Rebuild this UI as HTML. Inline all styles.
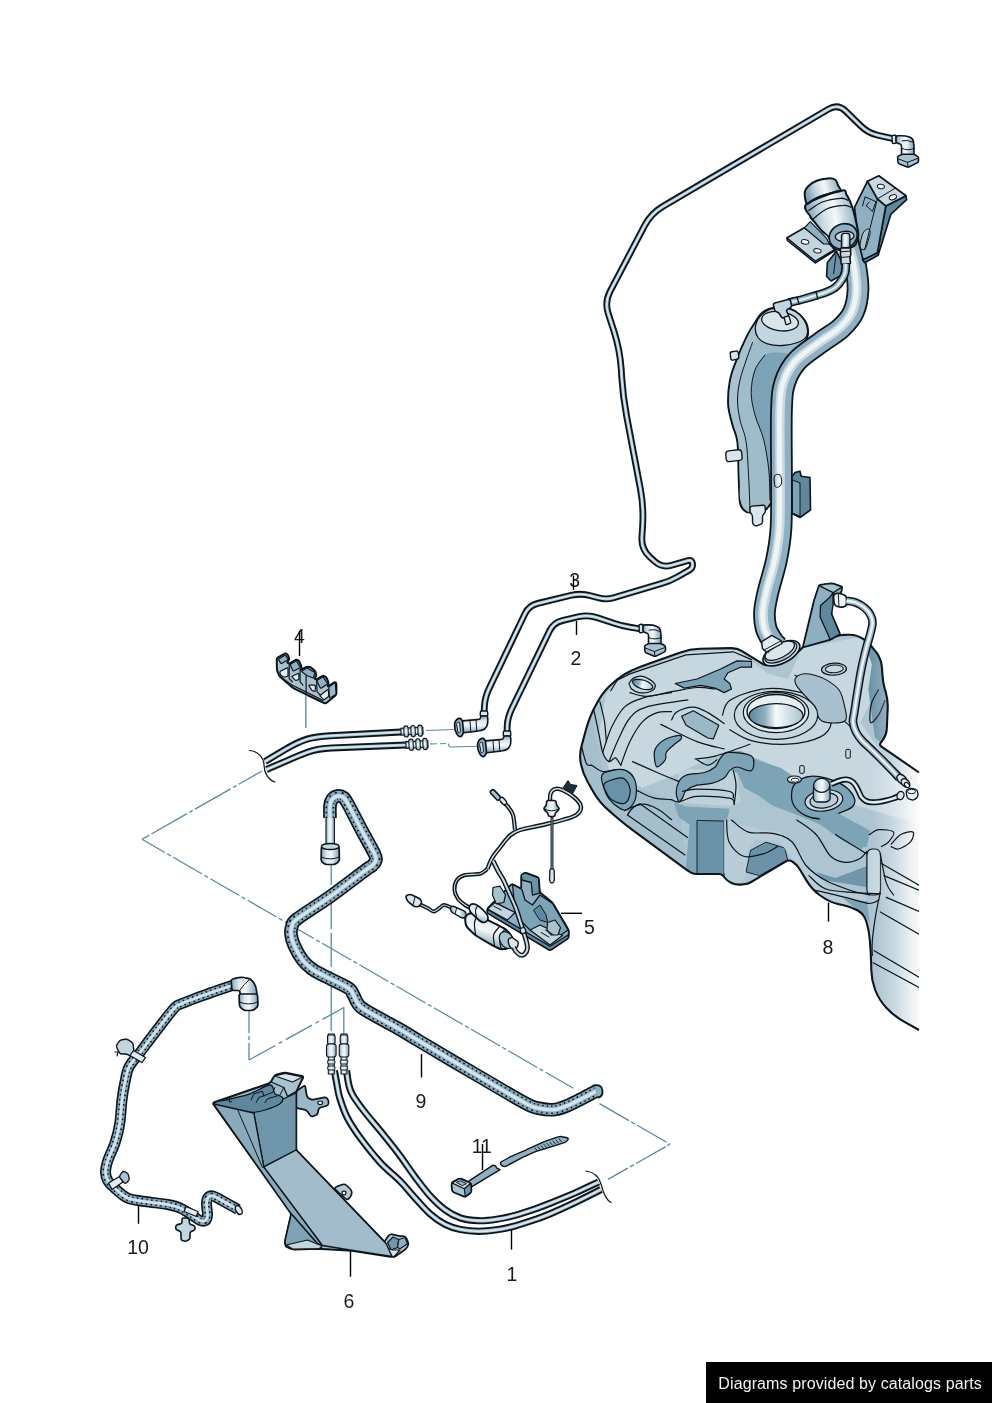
<!DOCTYPE html>
<html lang="en"><head><meta charset="utf-8"><title>Diagram</title>
<style>
html,body{margin:0;padding:0;background:#fff;}
body{width:992px;height:1403px;position:relative;overflow:hidden;font-family:"Liberation Sans",sans-serif;}
svg{position:absolute;left:0;top:0;display:block;will-change:transform;}
.lb{font-family:"Liberation Sans",sans-serif;font-size:19.5px;fill:#1a1a1a;text-anchor:middle;}
.credit{position:absolute;left:706px;top:1362px;width:286px;height:41px;box-sizing:border-box;padding-left:12.3px;overflow:hidden;background:#000;color:#f2f2f2;font-size:16px;line-height:43px;text-align:left;white-space:nowrap;letter-spacing:0.11px;will-change:transform;}
</style></head><body>
<svg width="992" height="1403" viewBox="0 0 992 1403">
<defs>
<linearGradient id="tankfade" gradientUnits="userSpaceOnUse" x1="872" y1="0" x2="919" y2="0">
<stop offset="0" stop-color="#fff" stop-opacity="0"/><stop offset="0.5" stop-color="#fff" stop-opacity="0.4"/><stop offset="0.85" stop-color="#fff" stop-opacity="0.8"/><stop offset="1" stop-color="#fff" stop-opacity="0.92"/>
</linearGradient>
<linearGradient id="cyl" x1="0" y1="0" x2="1" y2="0">
<stop offset="0" stop-color="#7fa2b5"/><stop offset="0.3" stop-color="#dfe9ee"/><stop offset="0.55" stop-color="#f4f8fa"/><stop offset="1" stop-color="#7fa2b5"/>
</linearGradient>
<linearGradient id="hole" x1="0" y1="0" x2="1" y2="0">
<stop offset="0" stop-color="#5d8499"/><stop offset="0.3" stop-color="#8fb0c2"/><stop offset="0.5" stop-color="#f6fafb"/><stop offset="0.8" stop-color="#c9d9e1"/><stop offset="1" stop-color="#a9c2cf"/>
</linearGradient>
<clipPath id="tankclip"><path d="M742.1 651.2Q737 648 731 648.1L699.8 648.8Q689.8 649 680.4 652.4L649.4 663.6Q640 667 632.2 670.2L632.2 670.2Q624.4 673.4 616.7 679.8L613.8 682.2Q604.5 689.8 598.5 700.2L597 702.9Q590 715 586.3 728.5L581.7 745.4Q579 755 580.9 764L580.9 764Q582.7 773 587.6 781.7L593.1 791.5Q599 802 608.1 809.9L616.8 817.5Q624.4 824 632.4 829.9L683.6 867.6Q686 869.4 688.5 871L690.5 872.4Q693 874 696 874L719 874Q722 874 723.7 876.4L724.5 877.5Q727 881 731.5 883L731.5 883Q736 885 741 884.6L743.8 884.3Q747.8 884 751.2 882L785.6 861.5Q789 859.5 792.4 861.7L792.9 862Q796.8 864.5 799.4 868.8L806.4 880.4Q811.5 889 819.5 895L821 896Q829 902 838.8 904.2L843.7 905.3Q851.5 907 857.8 910.5L857.8 910.5Q864 914 866.4 921.6L866.5 922Q869 930 869.8 940L870.2 945Q871 955 871.2 965L871.3 970Q871.5 980 875 989.4L875.2 990Q879 1000 886.5 1008L886.5 1008Q894 1016 904.5 1021.9L919 1030L919 1030L919 772.5L919 772.5L881.5 746.7Q879 745 880.8 742.6L882.9 739.8Q886.5 735 886.8 729L887.7 708Q888 700 885.8 692.3L884.6 688.3Q883 682.5 882.6 676.5L882 668Q881.5 660 877.1 653.3L876.5 652.5Q871.5 645 864.2 639.8L863.5 639.2Q857 634.5 849 634.7L844 634.9Q840 635 836.2 636.2L805.9 645.4Q804 646 802.6 647.4L800.1 649.9Q798 652 795.3 653.2L768.7 664.8Q766 666 763.5 664.4Z"/></clipPath>
<linearGradient id="cyl2" x1="0" y1="0.2" x2="1" y2="0">
<stop offset="0" stop-color="#7fa2b5"/><stop offset="0.25" stop-color="#c9d9e1"/><stop offset="0.5" stop-color="#f4f8fa"/><stop offset="0.75" stop-color="#b3c9d5"/><stop offset="1" stop-color="#6f96ab"/>
</linearGradient>
<linearGradient id="cylv" x1="0" y1="0" x2="0" y2="1">
<stop offset="0" stop-color="#7fa2b5"/><stop offset="0.3" stop-color="#dfe9ee"/><stop offset="0.55" stop-color="#f4f8fa"/><stop offset="1" stop-color="#7fa2b5"/>
</linearGradient>
<linearGradient id="cylp" x1="0.7" y1="0" x2="0.3" y2="1">
<stop offset="0" stop-color="#8fb0c2"/><stop offset="0.3" stop-color="#e6eef2"/><stop offset="0.5" stop-color="#f4f8fa"/><stop offset="0.75" stop-color="#a9c2cf"/><stop offset="1" stop-color="#5f889e"/>
</linearGradient>

</defs>
<g id="lines">
<line x1="142" y1="839.3" x2="262" y2="771" stroke="#5b88a1" stroke-width="1.3" stroke-dasharray="8.4 2.4 41 2.6 4 2.6 41 2.6 4 2.6 60 3" stroke-dashoffset="0"/>
<line x1="142" y1="839.3" x2="573.4" y2="1088.3" stroke="#5b88a1" stroke-width="1.3" stroke-dasharray="33.4 2.6 4.2 2.8" stroke-dashoffset="7"/>
<line x1="599.5" y1="1103.6" x2="670" y2="1144.2" stroke="#5b88a1" stroke-width="1.3" stroke-dasharray="34 2.5 4.5 2.5 34 2.5 3 0" stroke-dashoffset="0"/>
<line x1="670" y1="1144.2" x2="608" y2="1179.4" stroke="#5b88a1" stroke-width="1.3" stroke-dasharray="3 2 34 2.5 4.5 2.5 30 3" stroke-dashoffset="0"/>
<line x1="331.2" y1="865" x2="331.2" y2="1034" stroke="#5b88a1" stroke-width="1.3" stroke-dasharray="20 4 40 4 34 4 60 4" stroke-dashoffset="0"/>
<line x1="343.8" y1="1007" x2="343.8" y2="1034" stroke="#5b88a1" stroke-width="1.3" />
<line x1="249" y1="1011" x2="249" y2="1060" stroke="#5b88a1" stroke-width="1.3" stroke-dasharray="22 3 4 3" stroke-dashoffset="0"/>
<line x1="249" y1="1060" x2="344" y2="1007.5" stroke="#5b88a1" stroke-width="1.3" stroke-dasharray="30 4 4 4" stroke-dashoffset="0"/>
<line x1="305.8" y1="695" x2="305.8" y2="728" stroke="#5b88a1" stroke-width="1.3" />
<line x1="426" y1="730.5" x2="454" y2="729.5" stroke="#5b88a1" stroke-width="1.1" />
<line x1="430" y1="744" x2="446" y2="743.5" stroke="#5b88a1" stroke-width="1.1" stroke-dasharray="7 3" stroke-dashoffset="0"/>
<line x1="448" y1="743.5" x2="449.5" y2="747" stroke="#5b88a1" stroke-width="1.1" />
<line x1="449.5" y1="747" x2="478" y2="746.3" stroke="#5b88a1" stroke-width="1.1" />
<path d="M249.5 750.5C258 751 264 758 264 765C264 772 268 780 275 782" fill="none" stroke="#0d161d" stroke-width="1.2" stroke-linejoin="round" stroke-linecap="round" />
<path d="M586 1171C594 1172 599 1177 601 1184C603 1192 606 1200 611 1202.5" fill="none" stroke="#0d161d" stroke-width="1.2" stroke-linejoin="round" stroke-linecap="round" />
</g>
<g id="tank">
<path d="M742.1 651.2Q737 648 731 648.1L699.8 648.8Q689.8 649 680.4 652.4L649.4 663.6Q640 667 632.2 670.2L632.2 670.2Q624.4 673.4 616.7 679.8L613.8 682.2Q604.5 689.8 598.5 700.2L597 702.9Q590 715 586.3 728.5L581.7 745.4Q579 755 580.9 764L580.9 764Q582.7 773 587.6 781.7L593.1 791.5Q599 802 608.1 809.9L616.8 817.5Q624.4 824 632.4 829.9L683.6 867.6Q686 869.4 688.5 871L690.5 872.4Q693 874 696 874L719 874Q722 874 723.7 876.4L724.5 877.5Q727 881 731.5 883L731.5 883Q736 885 741 884.6L743.8 884.3Q747.8 884 751.2 882L785.6 861.5Q789 859.5 792.4 861.7L792.9 862Q796.8 864.5 799.4 868.8L806.4 880.4Q811.5 889 819.5 895L821 896Q829 902 838.8 904.2L843.7 905.3Q851.5 907 857.8 910.5L857.8 910.5Q864 914 866.4 921.6L866.5 922Q869 930 869.8 940L870.2 945Q871 955 871.2 965L871.3 970Q871.5 980 875 989.4L875.2 990Q879 1000 886.5 1008L886.5 1008Q894 1016 904.5 1021.9L919 1030L919 1030L919 772.5L919 772.5L881.5 746.7Q879 745 880.8 742.6L882.9 739.8Q886.5 735 886.8 729L887.7 708Q888 700 885.8 692.3L884.6 688.3Q883 682.5 882.6 676.5L882 668Q881.5 660 877.1 653.3L876.5 652.5Q871.5 645 864.2 639.8L863.5 639.2Q857 634.5 849 634.7L844 634.9Q840 635 836.2 636.2L805.9 645.4Q804 646 802.6 647.4L800.1 649.9Q798 652 795.3 653.2L768.7 664.8Q766 666 763.5 664.4Z" fill="#adc4d1" stroke="none"/>
<g clip-path="url(#tankclip)">
<path d="M624.4 675.2L689.8 651.7L736.9 649.8L767.8 673.4L787.7 678.9L802.3 648L860.3 637.1L878.5 653.5L882.1 678.9L860.3 722.4L896.6 773.2L918.4 787.7L918.4 824L845.8 802.3L787.7 773.2L758.7 758.7L726 751.4L707.9 758.7L678.9 773.2L642.6 787.7L609.9 773.2L599 733.3L606.3 693.4Z" fill="#c6d7e0" stroke="none" stroke-width="0.9" stroke-linejoin="round"/>
<path d="M579.1 755.1L591.8 715.2L602.7 773.2L635.3 787.7L678.9 802.3L686.1 871.2L624.4 824L599 802.3L582.7 773.2Z" fill="#a5bfcd" stroke="none" stroke-width="0.9" stroke-linejoin="round"/>
<path d="M675.2 683.5L697 679L720.6 669L736.9 660.9L751.5 661.4L751.5 667.2L740.6 667.2L727.9 672.7L724.2 679L729.7 683.5L731.5 689L724.2 692.6L715.2 688.1L700.6 685.4L684.3 688.1Z" fill="#7da3b7" stroke="#0d161d" stroke-width="1.2" stroke-linejoin="round"/>
<ellipse cx="642.6" cy="684.5" rx="10.5" ry="4.4" fill="url(#hole)" stroke="#0d161d" stroke-width="1.2" transform="rotate(17 642.6 684.5)" />
<path d="M629 683.5C629.7 682.6 631.2 679.3 633.5 678.1C635.8 676.9 639.6 675.8 642.6 676.3C645.6 676.7 649.5 679.2 651.7 680.8C653.8 682.5 655.6 684.5 655.3 686.3C655 688.1 652.6 690.7 649.8 691.7C647.1 692.8 642 693.1 639 692.6C635.9 692.2 633.4 690.5 631.7 689C630 687.5 629.4 684.5 629 683.5" fill="none" stroke="#0d161d" stroke-width="1.2" stroke-linejoin="round" stroke-linecap="round" />
<path d="M681.6 716.2L693.4 710.8L718.8 725.3L713.3 738.9L707.9 738L686.1 725.3Z" fill="#9ab8c8" stroke="#0d161d" stroke-width="1.2" stroke-linejoin="round"/>
<path d="M671.6 719.8C672.5 718.5 673.4 713.8 677.1 711.7C680.7 709.6 688.2 707 693.4 707.1C698.5 707.3 702.8 709.9 707.9 712.6C713 715.3 721.5 721.7 724.2 723.5" fill="none" stroke="#0d161d" stroke-width="1.2" stroke-linejoin="round" stroke-linecap="round" />
<path d="M655.3 748.9C656.9 745.8 660.4 742.1 664.4 739.8C668.3 737.5 676.1 735.4 678.9 735.3C681.7 735.1 682 737.2 681.1 738.9C680.1 740.6 675.9 743 673.4 745.2C670.9 747.5 667.5 750.1 666.2 752.5C664.8 754.9 666.8 757.3 665.3 759.8C663.8 762.2 658.9 767.3 657.1 767C655.3 766.7 654.7 761 654.4 757.9C654.1 754.9 653.6 751.9 655.3 748.9Z" fill="#7da3b7" stroke="#0d161d" stroke-width="1.2" stroke-linejoin="round"/>
<path d="M601.8 775.2C603.3 771.1 611.3 770.5 615.4 769.7C619.4 769 623.2 769.3 626.3 770.6C629.3 772 632.2 774.6 633.9 777.9C635.6 781.2 636.5 786.4 636.4 790.6C636.4 794.8 635.5 800.1 633.5 803.3C631.5 806.5 627.8 810 624.4 810C621.1 810.1 616.6 806.3 613.5 803.7C610.5 801 608.3 799 606.3 794.2C604.3 789.5 600.2 779.3 601.8 775.2Z" fill="#7da3b7" stroke="#0d161d" stroke-width="1.2" stroke-linejoin="round"/>
<path d="M604.5 783.3C606.9 780.9 616.9 777.9 620.8 777.9C624.7 777.9 626.6 780.6 628.1 783.3C629.6 786.1 630.5 790.9 629.9 794.2C629.3 797.6 627.5 802.4 624.4 803.3C621.4 804.2 614.8 801.5 611.7 799.7C608.7 797.9 607.5 795.1 606.3 792.4C605.1 789.7 602.1 785.8 604.5 783.3Z" fill="#6a93a9" stroke="#0d161d" stroke-width="1.2" stroke-linejoin="round"/>
<path d="M715.2 764.2L726 751.4L740.6 750.7L758.7 760.5L780.5 767.8L796.8 778.7L802.3 787.7L809.5 802.3L831.3 820.4L860.3 838.5L865.8 847.6L842.2 840.4L820.4 824.8L795 813.9L773.2 805.9L758.7 795.7L744.2 787.7L737.7 773.2L726.8 768.9L715.9 773.2Z" fill="#7da3b7" stroke="none" stroke-width="0.9" stroke-linejoin="round"/>
<path d="M673.8 802.3L686.1 806.6L729.7 808.8L726.8 821.1L725 882.8L697 875.6L685.4 870.5L689.8 824.8L678.9 817.5Z" fill="#7da3b7" stroke="none" stroke-width="0.9" stroke-linejoin="round"/>
<path d="M697 820.4L724.2 821.1L724.2 882.1L697 874.8Z" fill="#6a93a9" stroke="#0d161d" stroke-width="0.9" stroke-linejoin="round"/>
<path d="M678.9 773.2L689.8 768.9L715.2 770.3L726 767.8L736.9 773.2L740.6 802.3L729.7 805.9L686.1 803L675.2 799.4Z" fill="#bfd2dc" stroke="none" stroke-width="0.9" stroke-linejoin="round"/>
<path d="M678.9 781.5C680.5 778.7 681.9 776.7 686.1 775.2C690.4 773.7 699.4 773.8 704.3 772.5C709.1 771.1 712.4 769.4 715.2 767C717.9 764.6 718.5 760.4 720.6 757.9C722.7 755.5 722.7 752.8 727.9 752.5C733 752.2 747.5 753.1 751.5 756.1C755.4 759.2 753.9 768.8 751.5 770.6C749 772.5 740.6 767 736.9 767C733.3 767 731.8 768.8 729.7 770.6C727.6 772.5 727.3 775.8 724.2 777.9C721.2 780 716.1 782.1 711.5 783.3C707 784.6 701.3 784 697 785.2C692.8 786.4 688.6 788.5 686.1 790.6C683.7 792.7 683.7 796.1 682.5 797.9C681.3 799.7 679.9 802.4 678.9 801.5C677.8 800.6 676.2 795.7 676.2 792.4C676.2 789.1 677.2 784.4 678.9 781.5Z" fill="#7da3b7" stroke="#0d161d" stroke-width="1.2" stroke-linejoin="round"/>
<path d="M671.6 799.7C672.8 800 674.6 802.4 678.9 801.9C683.1 801.3 688.6 797 697 796.4C705.5 795.8 723.5 796.9 729.7 798.2C735.9 799.5 733.5 803.2 734.2 804.2" fill="none" stroke="#0d161d" stroke-width="1.2" stroke-linejoin="round" stroke-linecap="round" />
<path d="M682.5 791.5C684.9 791.1 689.2 789.2 697 789.2C704.9 789.2 723.6 790.1 729.7 791.5C735.7 793 732.7 796.8 733.3 797.9" fill="none" stroke="#0d161d" stroke-width="1.2" stroke-linejoin="round" stroke-linecap="round" />
<path d="M734.2 804.2C734.5 801 736.2 790.8 736 785.2C735.9 779.6 733.8 773.1 733.3 770.6" fill="none" stroke="#0d161d" stroke-width="1.2" stroke-linejoin="round" stroke-linecap="round" />
<path d="M627.5 815L685 855" fill="none" stroke="#0d161d" stroke-width="1.2" stroke-linejoin="round" stroke-linecap="round" />
<path d="M640 803.8L687.5 837.5" fill="none" stroke="#0d161d" stroke-width="1.2" stroke-linejoin="round" stroke-linecap="round" />
<path d="M640 803.8Q632 806 627.5 815" fill="none" stroke="#0d161d" stroke-width="1.2" stroke-linejoin="round" stroke-linecap="round" />
<path d="M746 871.9L750.7 850.2L766 842.2L784.8 848L787.7 860.3L759.4 875.6Z" fill="#6a93a9" stroke="#0d161d" stroke-width="0.9" stroke-linejoin="round"/>
<path d="M864.7 642.6L878.5 652.7L886.4 678.9L888.6 722.4L882.8 744.9L874.8 736.9L871.9 715.2L868.3 689.8L871.9 664.4Z" fill="#6f96ab" stroke="none" stroke-width="0.9" stroke-linejoin="round"/>
<path d="M878.5 689.8C877.3 692.2 872.5 698.8 871.2 704.3C869.9 709.7 869.3 720.6 870.5 722.4C871.7 724.2 876 718.8 878.5 715.2C880.9 711.5 883.9 703.1 885 700.6" fill="none" stroke="#0d161d" stroke-width="1.2" stroke-linejoin="round" stroke-linecap="round" />
<path d="M610.8 690.8L617.2 680.3L629.9 673.9L686.1 654.9L733.3 651.8L751.5 659.6" fill="none" stroke="#0d161d" stroke-width="1.2" stroke-linejoin="round" stroke-linecap="round" />
<path d="M629.9 692.6C632.6 693.2 639.3 696.4 646.2 696.3C653.2 696.1 663.1 693.2 671.6 691.7C680.1 690.3 689.8 688 697 687.5C704.3 687.1 712.1 688.8 715.2 689" fill="none" stroke="#0d161d" stroke-width="1.2" stroke-linejoin="round" stroke-linecap="round" />
<path d="M602.7 752.5C604.2 748.3 608.1 734.7 611.7 727.1C615.4 719.5 619.3 712 624.4 707.1C629.6 702.3 634.7 700.5 642.6 698.1C650.4 695.6 666.8 693.5 671.6 692.6" fill="none" stroke="#0d161d" stroke-width="1.2" stroke-linejoin="round" stroke-linecap="round" />
<path d="M609 761.6C610.7 757.6 615.5 745.2 619 738C622.5 730.7 625.3 723.2 629.9 718C634.4 712.9 636.5 710.2 646.2 707.1C655.9 704.1 681 701.1 687.9 699.9" fill="none" stroke="#0d161d" stroke-width="1.2" stroke-linejoin="round" stroke-linecap="round" />
<path d="M620.8 765.2C622.3 761.3 626.3 748.9 629.9 741.6C633.5 734.4 638 726.5 642.6 721.7C647.1 716.8 652.3 714.2 657.1 712.6C661.9 710.9 669.2 711.8 671.6 711.7" fill="none" stroke="#0d161d" stroke-width="1.2" stroke-linejoin="round" stroke-linecap="round" />
<path d="M593.6 709C594.5 713.2 597.5 727.1 599 734.4C600.5 741.6 601 748 602.7 752.5C604.3 757 606.9 760.7 609 761.6C611.1 762.5 613.4 757.3 615.4 757.9C617.3 758.6 619.9 764 620.8 765.2" fill="none" stroke="#0d161d" stroke-width="1.2" stroke-linejoin="round" stroke-linecap="round" />
<path d="M599.9 701.7C600.7 705 603.4 715 604.5 721.7C605.5 728.3 606 738.3 606.3 741.6" fill="none" stroke="#0d161d" stroke-width="1.2" stroke-linejoin="round" stroke-linecap="round" />
<path d="M660.7 724.4C666.8 727.2 686.4 737.5 697 741.6C707.6 745.7 719.7 747.7 724.2 748.9" fill="none" stroke="#0d161d" stroke-width="1.2" stroke-linejoin="round" stroke-linecap="round" />
<path d="M632.6 761.6C636.7 763.4 649.4 769.1 657.1 772.5C664.8 775.8 675.2 780 678.9 781.5" fill="none" stroke="#0d161d" stroke-width="1.2" stroke-linejoin="round" stroke-linecap="round" />
<path d="M695.2 758.9C698.5 758.4 706 758.6 715.2 756.1C724.3 753.7 744.2 746.3 750 744.3" fill="none" stroke="#0d161d" stroke-width="1.2" stroke-linejoin="round" stroke-linecap="round" />
<path d="M697 759.8C698.8 760.7 704.6 765.2 707.9 765.2C711.2 765.2 715.5 760.7 717 759.8" fill="none" stroke="#0d161d" stroke-width="1.2" stroke-linejoin="round" stroke-linecap="round" />
<path d="M591.8 765.2C593.6 766.3 598.7 770.8 602.7 771.6C606.6 772.3 613.2 770 615.4 769.7" fill="none" stroke="#0d161d" stroke-width="1.2" stroke-linejoin="round" stroke-linecap="round" />
<path d="M580.9 743.4C581.8 746.8 584.5 759.8 586.3 763.4C588.1 767 590.9 764.9 591.8 765.2" fill="none" stroke="#0d161d" stroke-width="1.2" stroke-linejoin="round" stroke-linecap="round" />
<path d="M637.1 790.6C639.9 791.8 647.7 796.4 653.5 797.9C659.2 799.4 668.6 799.4 671.6 799.7" fill="none" stroke="#0d161d" stroke-width="1.2" stroke-linejoin="round" stroke-linecap="round" />
<path d="M624.4 810.6C627.5 809.5 637.1 804.5 642.6 804.2C648 803.9 652.3 806.2 657.1 808.8C661.9 811.3 669.2 817.8 671.6 819.6" fill="none" stroke="#0d161d" stroke-width="1.2" stroke-linejoin="round" stroke-linecap="round" />
<path d="M795 675.2C799.8 677.7 816.8 683.1 824 689.8C831.3 696.4 833.7 708.5 838.5 715.2C843.4 721.8 843.4 718.8 853.1 729.7C862.7 740.6 889.3 772 896.6 780.5" fill="none" stroke="#0d161d" stroke-width="1.2" stroke-linejoin="round" stroke-linecap="round" />
<path d="M722.4 715.2C723.6 712.7 723.6 704.9 729.7 700.6C735.7 696.4 749 691.6 758.7 689.8C768.4 687.9 776.9 687.9 787.7 689.8C798.6 691.6 816.8 695.2 824 700.6C831.3 706.1 831.9 716.4 831.3 722.4C830.7 728.5 827.7 733.3 820.4 736.9C813.1 740.6 799.2 743.6 787.7 744.2C776.2 744.8 761.1 743 751.4 740.6C741.8 738.1 733.3 731.5 729.7 729.7" fill="none" stroke="#0d161d" stroke-width="1.2" stroke-linejoin="round" stroke-linecap="round" />
<path d="M795.3 678.6C796.4 676.8 799.4 674.6 802.6 674C805.8 673.5 810.6 674.2 814.7 675.2C818.7 676.2 822.7 677.7 826.8 680.1C830.8 682.5 835.9 685.6 838.9 689.8C841.8 693.9 843.3 700 844.3 705.2C845.3 710.4 848.6 718.3 844.9 721C841.2 723.6 827.4 723.8 821.9 721C816.5 718.1 815.5 708.7 812.3 704C809 699.4 805.2 696.3 802.6 693.1C799.9 690 797.5 687.7 796.3 685.3C795.1 682.9 794.3 680.5 795.3 678.6Z" fill="#a9c1ce" stroke="#0d161d" stroke-width="1.1"/>
<ellipse cx="776" cy="715.3" rx="41.7" ry="24" fill="#c6d7e0" stroke="#0d161d" stroke-width="1.2" />
<ellipse cx="776" cy="712.6" rx="32.7" ry="20" fill="#dfe9ee" stroke="#0d161d" stroke-width="1.2" />
<ellipse cx="776" cy="711.5" rx="29" ry="17" fill="#e6eef2" stroke="#0d161d" stroke-width="1.4" />
<ellipse cx="776" cy="715.6" rx="27" ry="12" fill="url(#hole)" stroke="#0d161d" stroke-width="1.2" />
<ellipse cx="834" cy="669.2" rx="12.5" ry="6" fill="#b3c9d5" stroke="#0d161d" stroke-width="1.2" transform="rotate(-3 834 669.2)" />
<ellipse cx="834.3" cy="668.9" rx="9" ry="3.8" fill="#c6d7e0" stroke="#0d161d" stroke-width="1" transform="rotate(-3 834.3 668.9)" />
<path d="M792.1 789.9C792.9 785.9 795.1 783.1 798.1 780.8C801.2 778.6 805.7 776.8 810.2 776.3C814.8 775.8 819.8 776.3 825.4 777.8C830.9 779.3 838.7 782.1 843.5 785.4C848.3 788.6 852.6 793.9 854.1 797.5C855.6 801 854.9 804 852.6 806.5C850.3 809.1 845.5 810.6 840.5 812.6C835.4 814.6 828.1 818.1 822.3 818.6C816.5 819.1 810.5 817.9 805.7 815.6C800.9 813.3 795.9 809.3 793.6 805C791.3 800.7 791.3 793.9 792.1 789.9Z" fill="#7da3b7" stroke="#0d161d" stroke-width="1.3" stroke-linejoin="round" stroke-linecap="round" />
<ellipse cx="823.9" cy="800.5" rx="19" ry="10.5" fill="#c6d7e0" stroke="#0d161d" stroke-width="1.2" transform="rotate(-8 823.9 800.5)" />
<ellipse cx="823.9" cy="800.5" rx="14" ry="7.5" fill="#b9cdd8" stroke="#0d161d" stroke-width="1.2" transform="rotate(-8 823.9 800.5)" />
<path d="M813.5 787.4Q813.6 785.4 815.6 785.4L827.9 785.4Q829.9 785.4 829.9 787.4L830.2 797.7Q830.2 799.7 828.6 800.9L828.5 800.9Q826.9 802 824.9 802L818.3 802Q816.3 802 814.8 800.9L814.8 800.9Q813.3 799.7 813.3 797.7Z" fill="url(#cyl)" stroke="#0d161d" stroke-width="1.3" stroke-linejoin="round" stroke-linecap="round" />
<ellipse cx="821.7" cy="785.4" rx="8.2" ry="7" fill="url(#cyl)" stroke="#0d161d" stroke-width="1.3" />
<ellipse cx="794.4" cy="779.6" rx="7" ry="3.6" fill="#dfe9ee" stroke="#0d161d" stroke-width="1.2" />
<ellipse cx="795.1" cy="780.2" rx="4" ry="2" fill="#f4f8fa" stroke="#0d161d" stroke-width="0.9" />
<path d="M799.7 766.7Q799.7 765.7 800.7 765.7L803.2 765.7Q804.2 765.7 804.2 766.7L804.2 772.3Q804.2 773.3 803.2 773.3L800.7 773.3Q799.7 773.3 799.7 772.3Z" fill="#c6d7e0" stroke="#0d161d" stroke-width="1" stroke-linejoin="round" stroke-linecap="round" />
<path d="M845.8 750.4Q845.8 749.4 846.8 749.4L849.3 749.4Q850.3 749.4 850.3 750.4L850.3 757.1Q850.3 758.1 849.3 758.1L846.8 758.1Q845.8 758.1 845.8 757.1Z" fill="#c6d7e0" stroke="#0d161d" stroke-width="1" stroke-linejoin="round" stroke-linecap="round" />
<path d="M819.3 818.6L837.5 812.9L870.7 831L865.4 843.1L861.7 849.2L837.5 837.1Z" fill="#7da3b7" stroke="none" stroke-width="0" stroke-linejoin="round" stroke-linecap="round" />
<path d="M724.2 820L760.5 829.7L779.8 832.1L796.8 844.2L808.9 868.4L825.8 885.3L845.2 892.6L866.9 895L869.4 921.6L854.9 908.3L828.2 901.1L813.7 890.2L796.8 863.6L791.9 858.7L779.8 841.8L755.6 839.4L748.4 849L744.8 878.1L736.3 885.3L726.6 880.5L724.2 872Z" fill="#b9cdd8" stroke="none" stroke-width="1.2" stroke-linejoin="round"/>
<path d="M818.6 820L845.2 820L869.4 835L866.9 847.1L854.9 844.2L835.5 832.6Z" fill="#7da3b7" stroke="none" stroke-width="1.2" stroke-linejoin="round"/>
<path d="M816.1 872L835.5 878.1L866.9 866L866.9 887.3L845.2 883.4L825.8 880.5Z" fill="#6f96ab" stroke="none" stroke-width="1.2" stroke-linejoin="round"/>
<path d="M842.8 897.9L866.9 901.3L869.9 922.8L864.5 915.6L854.9 908.3Z" fill="#7da3b7" stroke="none" stroke-width="1.2" stroke-linejoin="round"/>
<path d="M879 899.8L888.7 895L919 909.5L919 1030.5L893.6 1016.5L879 1003.9L873 984.5L872.3 955.5L874.2 921.6Z" fill="#a9c1ce" stroke="none" stroke-width="1.2" stroke-linejoin="round"/>
<path d="M866.9 855.7Q866.9 852.7 868.2 850.8L868.2 850.8Q869.4 849 872.4 849L874.8 849Q877.8 849 879.2 850.8L879.2 850.8Q880.5 852.7 880.5 855.7L880.5 889.6Q880.5 892.6 879.2 893.8L879.2 893.8Q877.8 895 874.8 895L872.4 895Q869.4 895 868.2 893.8L868.2 893.8Q866.9 892.6 866.9 889.6Z" fill="#c3d5de" stroke="#0d161d" stroke-width="1.2" stroke-linejoin="round" stroke-linecap="round" />
<rect x="840" y="560" width="80" height="480" fill="url(#tankfade)"/>
<path d="M726.6 820C727 823.6 726.2 835.7 729 841.8C731.9 847.8 737.9 854.3 743.6 856.3C749.2 858.3 757.3 855.5 762.9 853.9C768.6 852.3 775 847.8 777.4 846.6" fill="none" stroke="#0d161d" stroke-width="1.2" stroke-linejoin="round" stroke-linecap="round" />
<path d="M731.5 820C734.3 822 741.5 829.9 748.4 832.1C755.2 834.3 765.3 831.7 772.6 833.3C779.8 834.9 786.3 836.3 791.9 841.8C797.6 847.2 800.8 859.5 806.5 866C812.1 872.4 818.6 876.5 825.8 880.5C833.1 884.5 842.8 887.7 850 890.2C857.3 892.6 866.1 894.2 869.4 895" fill="none" stroke="#0d161d" stroke-width="1.2" stroke-linejoin="round" stroke-linecap="round" />
<path d="M796.8 820C800 822.4 810.5 828.5 816.1 834.5C821.8 840.6 825.8 851.7 830.7 856.3C835.5 860.9 840.3 861.9 845.2 862.3C850 862.7 856.1 860.5 859.7 858.7C863.3 856.9 865.7 852.7 866.9 851.5" fill="none" stroke="#0d161d" stroke-width="1.2" stroke-linejoin="round" stroke-linecap="round" />
<path d="M835.5 834.5C838.7 836.5 849.6 843.4 854.9 846.6C860.1 849.8 864.9 852.7 866.9 853.9" fill="none" stroke="#0d161d" stroke-width="1.2" stroke-linejoin="round" stroke-linecap="round" />
<path d="M813.7 890.2C816.5 890.8 824.6 892.4 830.7 893.8C836.7 895.2 843.6 897 850 898.6C856.5 900.2 864.5 903.3 869.4 903.5C874.2 903.7 877.4 900.5 879 899.8" fill="none" stroke="#0d161d" stroke-width="1.2" stroke-linejoin="round" stroke-linecap="round" />
<path d="M808.9 875.6C811.7 877.9 818.2 886.1 825.8 889C833.5 891.8 845.8 891.8 854.9 892.6C863.9 893.4 876 893.6 880.3 893.8" fill="none" stroke="#0d161d" stroke-width="1.2" stroke-linejoin="round" stroke-linecap="round" />
<path d="M869.4 834.5C871 833.7 875 830.1 879 829.7C883.1 829.3 892 830.1 893.6 832.1C895.2 834.1 890.7 839.4 888.7 841.8C886.7 844.2 882.7 845.8 881.5 846.6" fill="none" stroke="#0d161d" stroke-width="1.2" stroke-linejoin="round" stroke-linecap="round" />
<path d="M891.1 844.2C892.8 842.6 897.2 836.5 900.8 834.5C904.5 832.5 911.3 830.9 912.9 832.1C914.5 833.3 912.9 839 910.5 841.8C908.1 844.6 901.6 848.2 898.4 849C895.2 849.8 892.4 847 891.1 846.6" fill="none" stroke="#0d161d" stroke-width="1.2" stroke-linejoin="round" stroke-linecap="round" />
<path d="M881.5 863.6L919 885.3" fill="none" stroke="#0d161d" stroke-width="1.2" stroke-linejoin="round" stroke-linecap="round" />
<path d="M883.9 875.6L919 890.2" fill="none" stroke="#0d161d" stroke-width="1.2" stroke-linejoin="round" stroke-linecap="round" />
<path d="M886.3 897.4L919 911.5" fill="none" stroke="#0d161d" stroke-width="1.2" stroke-linejoin="round" stroke-linecap="round" />
<path d="M880.3 911.9L919 934.2" fill="none" stroke="#0d161d" stroke-width="1.2" stroke-linejoin="round" stroke-linecap="round" />
<path d="M874.2 950.7L919 977.3" fill="none" stroke="#0d161d" stroke-width="1.2" stroke-linejoin="round" stroke-linecap="round" />
<path d="M873.2 962.8L919 987.4" fill="none" stroke="#0d161d" stroke-width="1.2" stroke-linejoin="round" stroke-linecap="round" />
<path d="M880.3 892.6C879.4 896.6 876.7 908.7 875.4 916.8C874.1 924.8 872.8 934.5 872.3 941C871.7 947.4 872.3 953.1 872.3 955.5" fill="none" stroke="#0d161d" stroke-width="1.2" stroke-linejoin="round" stroke-linecap="round" />
<path d="M880.3 853.9C881.3 858.7 884.1 876.1 886.3 882.9C888.5 889.8 892.4 893 893.6 895" fill="none" stroke="#0d161d" stroke-width="1.2" stroke-linejoin="round" stroke-linecap="round" />
</g>
<path d="M919 772.5L881.5 746.7Q879 745 880.8 742.6L882.9 739.8Q886.5 735 886.8 729L887.7 708Q888 700 885.8 692.3L884.6 688.3Q883 682.5 882.6 676.5L882 668Q881.5 660 877.1 653.3L876.5 652.5Q871.5 645 864.2 639.8L863.5 639.2Q857 634.5 849 634.7L844 634.9Q840 635 836.2 636.2L805.9 645.4Q804 646 802.6 647.4L800.1 649.9Q798 652 795.3 653.2L768.7 664.8Q766 666 763.5 664.4L742.1 651.2Q737 648 731 648.1L699.8 648.8Q689.8 649 680.4 652.4L649.4 663.6Q640 667 632.2 670.2L632.2 670.2Q624.4 673.4 616.7 679.8L613.8 682.2Q604.5 689.8 598.5 700.2L597 702.9Q590 715 586.3 728.5L581.7 745.4Q579 755 580.9 764L580.9 764Q582.7 773 587.6 781.7L593.1 791.5Q599 802 608.1 809.9L616.8 817.5Q624.4 824 632.4 829.9L683.6 867.6Q686 869.4 688.5 871L690.5 872.4Q693 874 696 874L719 874Q722 874 723.7 876.4L724.5 877.5Q727 881 731.5 883L731.5 883Q736 885 741 884.6L743.8 884.3Q747.8 884 751.2 882L785.6 861.5Q789 859.5 792.4 861.7L792.9 862Q796.8 864.5 799.4 868.8L806.4 880.4Q811.5 889 819.5 895L821 896Q829 902 838.8 904.2L843.7 905.3Q851.5 907 857.8 910.5L857.8 910.5Q864 914 866.4 921.6L866.5 922Q869 930 869.8 940L870.2 945Q871 955 871.2 965L871.3 970Q871.5 980 875 989.4L875.2 990Q879 1000 886.5 1008L886.5 1008Q894 1016 904.5 1021.9L919 1030" fill="none" stroke="#0d161d" stroke-width="2.1" stroke-linejoin="round" stroke-linecap="butt"/>
</g>
<g id="neck">
<path d="M791.2 477.5L795 472.5L800 471.2L801.2 476.2L810 477.5L810.5 510L800 517.5L792.5 513.8Z" fill="#5f889e" stroke="#0d161d" stroke-width="1.6" stroke-linejoin="round" stroke-linecap="round" />
<path d="M792.5 480L800 483L800 516.2L792.5 513Z" fill="#7da3b7" stroke="#0d161d" stroke-width="1" stroke-linejoin="round" stroke-linecap="round" />
<path d="M762.5 312.5C759.2 315 757.5 318.8 755 322.5C752.5 326.2 750.4 329.2 747.5 335C744.6 340.8 740.4 350 737.5 357.5C734.6 365 731.5 372.1 730 380C728.5 387.9 727.8 397.5 728.2 405C728.7 412.5 731 418.8 732.5 425C734 431.2 736.5 433.3 737.5 442.5C738.5 451.7 738.3 470 738.8 480C739.2 490 739.2 497.5 740 502.5C740.8 507.5 742.1 508.3 743.8 510C745.4 511.7 746.5 512.5 750 512.5C753.5 512.5 761.5 511.7 765 510C768.5 508.3 769.8 505 771.2 502.5C772.7 500 773.3 507.1 773.8 495C774.2 482.9 773.8 447.1 773.8 430C773.8 412.9 773.1 401.7 773.8 392.5C774.4 383.3 775.6 380 777.5 375C779.4 370 781.7 366.7 785 362.5C788.3 358.3 793.8 354.1 797.5 350C801.2 345.9 805.4 342.2 807 338C808.6 333.8 808.2 328.8 807 325C805.8 321.2 802.8 317.7 800 315C797.2 312.3 794.2 310 790 308.8C785.8 307.5 779.6 306.9 775 307.5C770.4 308.1 765.8 310 762.5 312.5Z" fill="#9fbccb" stroke="#0d161d" stroke-width="2" stroke-linejoin="round" stroke-linecap="round" />
<path d="M765 355C761.2 357.9 757.3 363.8 755 370C752.7 376.2 751.2 385 751.2 392.5C751.2 400 752.9 407.1 755 415C757.1 422.9 761.5 430.8 763.8 440C766 449.2 767.7 460 768.8 470C769.8 480 769.2 495.8 770 500C770.8 504.2 773.1 506.7 773.8 495C774.4 483.3 773.8 447.1 773.8 430C773.8 412.9 773.1 401.7 773.8 392.5C774.4 383.3 775.6 380 777.5 375C779.4 370 782.9 365.8 785 362.5C787.1 359.2 791.2 356.7 790 355C788.8 353.3 781.7 352.5 777.5 352.5C773.3 352.5 768.8 352.1 765 355Z" fill="#7da3b7" stroke="none" stroke-width="0" stroke-linejoin="round" stroke-linecap="round" />
<path d="M755.5 325C753.9 325.2 750.8 330.8 748 336.2C745.2 341.7 741.5 350.2 738.8 357.5C736 364.8 732.8 372.1 731.2 380C729.7 387.9 729.1 397.5 729.5 405C729.9 412.5 732.2 418.8 733.8 425C735.2 431.2 737.5 433.3 738.5 442.5C739.5 451.7 739.4 470.2 739.8 480C740.1 489.8 739 496 740.8 501.2C742.5 506.5 748.7 514.8 750 511.2C751.3 507.7 749.4 491.5 748.8 480C748.1 468.5 747.7 452.5 746.2 442.5C744.8 432.5 741.5 427.1 740 420C738.5 412.9 737.5 406.7 737.5 400C737.5 393.3 738.5 386.7 740 380C741.5 373.3 744.2 366.2 746.2 360C748.3 353.8 749.4 346 752.5 342.5C755.6 339 764.2 340 765 338.8C765.8 337.5 759.1 337.3 757.5 335C755.9 332.7 757.1 324.8 755.5 325Z" fill="#a9c2cf" stroke="none" stroke-width="0" stroke-linejoin="round" stroke-linecap="round" />
<path d="M752.5 342.5C751.5 345.4 748.3 353.8 746.2 360C744.2 366.2 741.5 373.3 740 380C738.5 386.7 737.5 393.3 737.5 400C737.5 406.7 738.5 412.9 740 420C741.5 427.1 744.8 432.5 746.2 442.5C747.7 452.5 748.1 468.5 748.8 480C749.4 491.5 749.8 506 750 511.2" fill="none" stroke="#0d161d" stroke-width="1" stroke-linejoin="round" stroke-linecap="round" />
<path d="M765 355C763.3 357.5 757.3 363.8 755 370C752.7 376.2 751.2 385 751.2 392.5C751.2 400 752.9 407.1 755 415C757.1 422.9 761.5 430.8 763.8 440C766 449.2 767.7 460 768.8 470C769.8 480 769.8 495 770 500" fill="none" stroke="#0d161d" stroke-width="1" stroke-linejoin="round" stroke-linecap="round" />
<path d="M755.5 326.2C756.2 322.3 759.2 316.8 762.5 313.8C765.8 310.7 770.4 308.8 775 308C779.6 307.2 785.8 307.8 790 309C794.2 310.2 797.2 312.3 800 315C802.8 317.7 805.4 321.5 806.5 325C807.6 328.5 808 333.3 806.5 336.2C805 339.2 801.5 341 797.5 342.5C793.5 344 787.5 345.3 782.5 345.5C777.5 345.7 771.6 345.1 767.5 343.8C763.4 342.4 760 340.4 758 337.5C756 334.6 754.8 330.2 755.5 326.2Z" fill="#c3d5de" stroke="#0d161d" stroke-width="1.3" stroke-linejoin="round" stroke-linecap="round" />
<ellipse cx="780" cy="321.2" rx="18.5" ry="9.5" fill="#dbe6ec" stroke="#0d161d" stroke-width="1.3" transform="rotate(8 780 321.2)" />
<path d="M730.2 354Q730 352 732 351.7L736 351.1Q738 350.8 738.2 352.7L738.8 356.8Q739 358.8 737 359.2L733 360.1Q731 360.5 730.8 358.5Z" fill="#dbe6ec" stroke="#0d161d" stroke-width="1.4" stroke-linejoin="round" stroke-linecap="round" />
<path d="M725.8 454.2Q725.5 451.2 728.5 450.9L738.3 449.8Q741.2 449.5 741.6 452.5L742.1 457Q742.5 460 739.5 460.4L729.5 461.6Q726.5 462 726.2 459Z" fill="#dbe6ec" stroke="#0d161d" stroke-width="1.4" stroke-linejoin="round" stroke-linecap="round" />
<path d="M750 508.2Q750 506.2 752 506.1L763 505.2Q765 505 765.1 507L765.4 510.5Q765.5 512.5 764 513.8L764 513.8Q762.5 515 762.5 517L762.5 521.8Q762.5 523.8 760.6 524.4L757.4 525.6Q755.5 526.2 754 525L754 525Q752.5 523.8 752.5 521.8L752.5 517Q752.5 515 751.2 513.8L751.2 513.8Q750 512.5 750 510.5Z" fill="#dbe6ec" stroke="#0d161d" stroke-width="1.4" stroke-linejoin="round" stroke-linecap="round" />
<ellipse cx="781.4" cy="653.2" rx="20" ry="10" fill="#dbe6ec" stroke="#0d161d" stroke-width="1.7" transform="rotate(-27 781.4 653.2)" />
<ellipse cx="780.8" cy="652.3" rx="17.5" ry="8.2" fill="#b3c9d5" stroke="#0d161d" stroke-width="1.2" transform="rotate(-27 780.8 652.3)" />
<ellipse cx="779.8" cy="650.8" rx="16" ry="7" fill="#dbe6ec" stroke="#0d161d" stroke-width="1.2" transform="rotate(-27 779.8 650.8)" />
<path d="M850 246C850.9 249.2 854.2 257.7 855.5 265C856.8 272.3 858.3 282.2 858 290C857.7 297.8 856.3 305.7 853.5 312C850.7 318.3 846.6 322.8 841 328C835.4 333.2 827.3 337.5 820 343C812.7 348.5 802.8 354.5 797 361C791.2 367.5 787.6 373.8 785 382C782.4 390.2 782.1 393.7 781.5 410C780.9 426.3 781.6 460.3 781.5 480C781.4 499.7 781.8 514.7 781 528C780.2 541.3 778.7 549.3 776.5 560C774.3 570.7 770 583.3 768 592C766 600.7 764.8 606 764.5 612C764.2 618 764.8 623.3 766 628C767.2 632.7 770.2 637 772 640C773.8 643 776.2 645 777 646" fill="none" stroke="#0d161d" stroke-width="22.6" stroke-linejoin="round" stroke-linecap="butt" />
<path d="M850 246C850.9 249.2 854.2 257.7 855.5 265C856.8 272.3 858.3 282.2 858 290C857.7 297.8 856.3 305.7 853.5 312C850.7 318.3 846.6 322.8 841 328C835.4 333.2 827.3 337.5 820 343C812.7 348.5 802.8 354.5 797 361C791.2 367.5 787.6 373.8 785 382C782.4 390.2 782.1 393.7 781.5 410C780.9 426.3 781.6 460.3 781.5 480C781.4 499.7 781.8 514.7 781 528C780.2 541.3 778.7 549.3 776.5 560C774.3 570.7 770 583.3 768 592C766 600.7 764.8 606 764.5 612C764.2 618 764.8 623.3 766 628C767.2 632.7 770.2 637 772 640C773.8 643 776.2 645 777 646" fill="none" stroke="#8fb0c2" stroke-width="19" stroke-linejoin="round" stroke-linecap="butt" />
<path d="M850 246C850.9 249.2 854.2 257.7 855.5 265C856.8 272.3 858.3 282.2 858 290C857.7 297.8 856.3 305.7 853.5 312C850.7 318.3 846.6 322.8 841 328C835.4 333.2 827.3 337.5 820 343C812.7 348.5 802.8 354.5 797 361C791.2 367.5 787.6 373.8 785 382C782.4 390.2 782.1 393.7 781.5 410C780.9 426.3 781.6 460.3 781.5 480C781.4 499.7 781.8 514.7 781 528C780.2 541.3 778.7 549.3 776.5 560C774.3 570.7 770 583.3 768 592C766 600.7 764.8 606 764.5 612C764.2 618 764.8 623.3 766 628C767.2 632.7 770.2 637 772 640C773.8 643 776.2 645 777 646" fill="none" stroke="#c9d9e1" stroke-width="9.5" stroke-linejoin="round" stroke-linecap="butt" transform="translate(-1.4,0)"/>
<path d="M850 246C850.9 249.2 854.2 257.7 855.5 265C856.8 272.3 858.3 282.2 858 290C857.7 297.8 856.3 305.7 853.5 312C850.7 318.3 846.6 322.8 841 328C835.4 333.2 827.3 337.5 820 343C812.7 348.5 802.8 354.5 797 361C791.2 367.5 787.6 373.8 785 382C782.4 390.2 782.1 393.7 781.5 410C780.9 426.3 781.6 460.3 781.5 480C781.4 499.7 781.8 514.7 781 528C780.2 541.3 778.7 549.3 776.5 560C774.3 570.7 770 583.3 768 592C766 600.7 764.8 606 764.5 612C764.2 618 764.8 623.3 766 628C767.2 632.7 770.2 637 772 640C773.8 643 776.2 645 777 646" fill="none" stroke="#eef3f6" stroke-width="5" stroke-linejoin="round" stroke-linecap="butt" transform="translate(-1.8,0)"/>
<path d="M761.7 641.7L771.7 635.3L780.8 640.5L782 643.5L766.3 652L762.4 648.4Z" fill="#e3ecf1" stroke="#0d161d" stroke-width="1.4" stroke-linejoin="round" stroke-linecap="round" />
<path d="M763.9 650.2L780.8 640.9" fill="none" stroke="#0d161d" stroke-width="1" stroke-linejoin="round" stroke-linecap="round" />
<path d="M774 478Q773.8 475 776.7 474.4L777.1 474.3Q780 473.8 780.9 476.6L781.1 477.1Q782 480 781.6 483L781.6 483.3Q781.2 486.2 778.4 487.1L777.9 487.2Q775 488 774.7 485Z" fill="none" stroke="#0d161d" stroke-width="1" stroke-linejoin="round" stroke-linecap="round" />
</g>
<g id="tankpipe">
<path d="M804.6 646.9Q802.7 647.4 803.2 645.5L813.6 602.2Q814 600.2 814.7 598.3L818.4 587Q819 585.1 821 584.7L823.4 584.3Q825.4 583.9 827.4 583.8L830.9 583.5Q832.9 583.3 834.8 584L840.4 586Q842.3 586.6 842 588.6L841.6 590.7Q841.2 592.7 839.8 594L834.4 598.9Q832.9 600.2 832.7 602.2L831.6 611.9Q831.4 613.9 832.2 615.7L839.4 632.4Q840.2 634.3 838.4 635.2L831.7 638.9Q829.9 639.9 828 640.4Z" fill="#8fb0c2" stroke="#0d161d" stroke-width="1.8" stroke-linejoin="round" stroke-linecap="round" />
<path d="M820.5 605.5L829.9 597.2L833.2 592.7L832.9 606.3L831.4 613.9L839.9 634.1L830.2 639.6L820.1 616.9Z" fill="#5f889e" stroke="#0d161d" stroke-width="1.3" stroke-linejoin="round" stroke-linecap="round" />
<path d="M819 585.4L825.4 584.2L832.9 583.6L842 586.9L833.2 592.7L825.4 588.9Z" fill="#a9c2cf" stroke="#0d161d" stroke-width="1.3" stroke-linejoin="round" stroke-linecap="round" />
<path d="M833.6 597.9Q833.2 595 835.2 593.8L835.2 593.8Q837.2 592.7 840 593.6L843.7 594.8Q846.5 595.7 846.5 598.7L846.5 603.3Q846.5 606.3 843.6 606.9L843.4 606.9Q840.5 607.5 837.6 606.6L837.3 606.5Q834.4 605.5 834.1 602.6Z" fill="#eef3f6" stroke="#0d161d" stroke-width="1.6" stroke-linejoin="round" stroke-linecap="round" />
<path d="M838.2 593.4L839 606.6" fill="none" stroke="#0d161d" stroke-width="1" stroke-linejoin="round" stroke-linecap="round" />
<path d="M846.5 600.7C848 601 852.6 601.3 855.6 602.5C858.6 603.7 862.2 605.7 864.7 607.8C867.2 609.9 869.4 612.8 870.7 615.4C872 617.9 872.6 619.9 872.5 622.9C872.5 626 871.4 629.7 870.4 633.5C869.5 637.3 868.2 641.1 866.9 645.6C865.7 650.1 864.3 655.7 863.2 660.7C862 665.8 861.3 669.6 860.1 675.9C859 682.2 857.4 692.2 856.4 698.5C855.4 704.8 854.7 709.7 854.1 713.7C853.5 717.6 852.7 718.9 853 722C853.3 725.1 854.5 728.9 856 732C857.5 735.1 859 737.2 862 740.5C865 743.8 870 748.1 874 752C878 755.9 881.8 759.8 886 764C890.2 768.2 896.8 775.2 899 777.5" fill="none" stroke="#0d161d" stroke-width="8.6" stroke-linejoin="round" stroke-linecap="butt" />
<path d="M846.5 600.7C848 601 852.6 601.3 855.6 602.5C858.6 603.7 862.2 605.7 864.7 607.8C867.2 609.9 869.4 612.8 870.7 615.4C872 617.9 872.6 619.9 872.5 622.9C872.5 626 871.4 629.7 870.4 633.5C869.5 637.3 868.2 641.1 866.9 645.6C865.7 650.1 864.3 655.7 863.2 660.7C862 665.8 861.3 669.6 860.1 675.9C859 682.2 857.4 692.2 856.4 698.5C855.4 704.8 854.7 709.7 854.1 713.7C853.5 717.6 852.7 718.9 853 722C853.3 725.1 854.5 728.9 856 732C857.5 735.1 859 737.2 862 740.5C865 743.8 870 748.1 874 752C878 755.9 881.8 759.8 886 764C890.2 768.2 896.8 775.2 899 777.5" fill="none" stroke="#9ab8c8" stroke-width="5.6" stroke-linejoin="round" stroke-linecap="butt" />
<path d="M846.5 600.7C848 601 852.6 601.3 855.6 602.5C858.6 603.7 862.2 605.7 864.7 607.8C867.2 609.9 869.4 612.8 870.7 615.4C872 617.9 872.6 619.9 872.5 622.9C872.5 626 871.4 629.7 870.4 633.5C869.5 637.3 868.2 641.1 866.9 645.6C865.7 650.1 864.3 655.7 863.2 660.7C862 665.8 861.3 669.6 860.1 675.9C859 682.2 857.4 692.2 856.4 698.5C855.4 704.8 854.7 709.7 854.1 713.7C853.5 717.6 852.7 718.9 853 722C853.3 725.1 854.5 728.9 856 732C857.5 735.1 859 737.2 862 740.5C865 743.8 870 748.1 874 752C878 755.9 881.8 759.8 886 764C890.2 768.2 896.8 775.2 899 777.5" fill="none" stroke="#eef3f6" stroke-width="2.4" stroke-linejoin="round" stroke-linecap="butt" />
<path d="M831.4 784C832.8 783.4 837.5 781.2 840 780.5C842.5 779.8 844.5 779.3 846.5 779.5C848.5 779.7 850.5 780.5 852 781.5C853.5 782.5 854.4 783.8 855.6 785.5C856.8 787.2 858 790 859 792C860 794 860.5 796 861.7 797.5C862.9 799 864.5 800.2 866 801C867.5 801.8 868.7 802 870.7 802.2C872.7 802.4 875.5 802.3 878 802C880.5 801.7 883.4 801.1 885.9 800.5C888.4 799.9 890.7 799.2 893 798.5C895.3 797.8 898.4 796.4 899.5 796" fill="none" stroke="#0d161d" stroke-width="6" stroke-linejoin="round" stroke-linecap="butt" />
<path d="M831.4 784C832.8 783.4 837.5 781.2 840 780.5C842.5 779.8 844.5 779.3 846.5 779.5C848.5 779.7 850.5 780.5 852 781.5C853.5 782.5 854.4 783.8 855.6 785.5C856.8 787.2 858 790 859 792C860 794 860.5 796 861.7 797.5C862.9 799 864.5 800.2 866 801C867.5 801.8 868.7 802 870.7 802.2C872.7 802.4 875.5 802.3 878 802C880.5 801.7 883.4 801.1 885.9 800.5C888.4 799.9 890.7 799.2 893 798.5C895.3 797.8 898.4 796.4 899.5 796" fill="none" stroke="#b3cbd8" stroke-width="2.8" stroke-linejoin="round" stroke-linecap="butt" />
<path d="M831.4 784C832.8 783.4 837.5 781.2 840 780.5C842.5 779.8 844.5 779.3 846.5 779.5C848.5 779.7 850.5 780.5 852 781.5C853.5 782.5 854.4 783.8 855.6 785.5C856.8 787.2 858 790 859 792C860 794 860.5 796 861.7 797.5C862.9 799 864.5 800.2 866 801C867.5 801.8 868.7 802 870.7 802.2C872.7 802.4 875.5 802.3 878 802C880.5 801.7 883.4 801.1 885.9 800.5C888.4 799.9 890.7 799.2 893 798.5C895.3 797.8 898.4 796.4 899.5 796" fill="none" stroke="#eef3f6" stroke-width="1.4" stroke-linejoin="round" stroke-linecap="butt" />
<ellipse cx="902" cy="779.5" rx="6" ry="4" fill="#dbe6ec" stroke="#0d161d" stroke-width="1.4" transform="rotate(45 902 779.5)" />
<ellipse cx="905.5" cy="783" rx="5" ry="3.4" fill="#dbe6ec" stroke="#0d161d" stroke-width="1.4" transform="rotate(45 905.5 783)" />
<ellipse cx="907" cy="785" rx="3" ry="2" fill="#f4f8fa" stroke="#0d161d" stroke-width="1.2" transform="rotate(45 907 785)" />
<ellipse cx="900.5" cy="795.5" rx="3.4" ry="4.2" fill="#dbe6ec" stroke="#0d161d" stroke-width="1.3" transform="rotate(20 900.5 795.5)" />
<path d="M906.2 792Q906 790 907.9 789.3L909.1 788.7Q911 788 912.9 788.6L915.6 789.4Q917.5 790 917.6 792L917.9 795Q918 797 916.4 798.1L914.6 799.4Q913 800.5 911.2 799.7L908.8 798.8Q907 798 906.8 796Z" fill="#eef3f6" stroke="#0d161d" stroke-width="1.3" stroke-linejoin="round" stroke-linecap="round" />
<ellipse cx="911.5" cy="791.5" rx="4" ry="2.2" fill="#f8fbfc" stroke="#0d161d" stroke-width="1" />
</g>
<g id="filter">
<path d="M885.8 205.9L906 195.8L906.6 199.6L890.8 214.4L878.1 255.3L864.7 262.7L862.6 259.8L877.4 252.5Z" fill="#5f889e" stroke="#0d161d" stroke-width="1.7" stroke-linejoin="round" stroke-linecap="round" />
<path d="M867.5 181.2L877.4 198.9L885.8 205.9L877.4 252.8L863 259.8L859 244L854.5 207.3Z" fill="#8fb0c2" stroke="#0d161d" stroke-width="1.7" stroke-linejoin="round" stroke-linecap="round" />
<path d="M867.5 181.2L878.8 175.7L906 195.8L885.8 205.9L877.4 198.9Z" fill="#c9d9e1" stroke="#0d161d" stroke-width="1.7" stroke-linejoin="round" stroke-linecap="round" />
<path d="M877.4 198.9L895 188.3" fill="none" stroke="#0d161d" stroke-width="1" stroke-linejoin="round" stroke-linecap="round" />
<ellipse cx="880.9" cy="186.5" rx="3.6" ry="2.2" fill="#f8fbfc" stroke="#0d161d" stroke-width="1" transform="rotate(10 880.9 186.5)" />
<ellipse cx="892.9" cy="197.2" rx="3.8" ry="2.4" fill="#f8fbfc" stroke="#0d161d" stroke-width="1" transform="rotate(-20 892.9 197.2)" />
<path d="M862.6 205.9L865 196.8L876 201.7L872.4 211.6L868.2 207.3L866.1 205.9L869.2 202" fill="none" stroke="#0d161d" stroke-width="1" stroke-linejoin="round" stroke-linecap="round" />
<path d="M862.4 234.5Q863.3 231.6 865.7 229.9L866.4 229.5Q868.9 227.8 869.8 230.3L869.8 230.3Q870.6 232.7 869.7 235.6L866.3 246.8Q865.4 249.7 863.1 249.8L863.1 249.8Q860.7 250 860.2 247L860.2 247Q859.7 244 860.6 241.1Z" fill="#a9c2cf" stroke="#0d161d" stroke-width="1" stroke-linejoin="round" stroke-linecap="round" />
<path d="M877.4 198.9L870.3 227.1L864.7 249.7" fill="none" stroke="#0d161d" stroke-width="1" stroke-linejoin="round" stroke-linecap="round" />
<path d="M787.1 237.7L804.3 227.8L829.4 244L835.3 249.7L815.3 262.7L787.8 240.1Z" fill="#c3d5de" stroke="#0d161d" stroke-width="1.7" stroke-linejoin="round" stroke-linecap="round" />
<path d="M787.1 238L815.3 261L835 249.4L835.3 250.5L815.3 262.9L787.3 240.4Z" fill="#5f889e" stroke="#0d161d" stroke-width="1.3" stroke-linejoin="round" stroke-linecap="round" />
<path d="M804.3 227.8L810.3 221.7L826.6 238.4L829.4 244L823.7 244Z" fill="#8fb0c2" stroke="#0d161d" stroke-width="1.2" stroke-linejoin="round" stroke-linecap="round" />
<ellipse cx="805.1" cy="241.9" rx="3.8" ry="2.2" fill="#f8fbfc" stroke="#0d161d" stroke-width="1" transform="rotate(10 805.1 241.9)" />
<ellipse cx="817.4" cy="250.8" rx="3.8" ry="2.2" fill="#f8fbfc" stroke="#0d161d" stroke-width="1" transform="rotate(10 817.4 250.8)" />
<path d="M827.3 262.7L836.4 251.1L842.8 263.8L841 275.4L831.1 281L826.6 276.5Z" fill="#6a93a9" stroke="#0d161d" stroke-width="1.6" stroke-linejoin="round" stroke-linecap="round" />
<path d="M836.4 251.8L833.6 273.7" fill="none" stroke="#0d161d" stroke-width="1" stroke-linejoin="round" stroke-linecap="round" />
<path d="M806.8 203.8C801.7 208.1 809 213.5 810.3 216.5C811.6 219.6 812.6 219.7 814.6 222.2C816.6 224.6 820 228.9 822.3 231.3C824.7 233.8 826.8 234.2 828.7 237C830.6 239.8 831.2 246.1 833.6 248.3C836.1 250.4 840 250.1 843.5 249.7C847 249.2 852.3 247.8 854.8 245.4C857.3 243.1 858 238.9 858.3 235.6C858.7 232.3 857.9 230.4 856.9 225.7C855.9 221 854 212.5 852.3 207.3C850.5 202.2 848.5 197.7 846.6 194.9C844.7 192.1 847.6 189.2 841 190.7C834.3 192.2 811.9 199.5 806.8 203.8Z" fill="url(#cyl2)" stroke="#0d161d" stroke-width="2" stroke-linejoin="round"/>
<path d="M804.7 192.5C804.9 189.6 806.2 188.1 808.2 186.2C810.2 184.2 813.4 182.1 816.7 180.8C820 179.5 824.9 178.6 828 178.4C831.1 178.2 833.6 178.6 835.3 179.8C837 181 837.2 183.7 838.1 185.5C839.1 187.3 841.2 189.7 841 190.7C840.7 191.7 839.6 190.7 836.4 191.5C833.3 192.4 826.3 194.3 822.3 195.8C818.3 197.2 815 198.9 812.5 200.3C809.9 201.6 808.1 205.1 806.8 203.8C805.5 202.5 804.5 195.5 804.7 192.5Z" fill="url(#cyl2)" stroke="#0d161d" stroke-width="2" stroke-linejoin="round"/>
<path d="M806.8 203.8C807.8 203.2 809.9 201.4 812.5 200C815 198.6 818.3 197.1 822.3 195.6C826.3 194.2 833.3 192.2 836.4 191.4C839.6 190.6 840.2 190.8 841 190.7" fill="none" stroke="#0d161d" stroke-width="1.4" stroke-linejoin="round" stroke-linecap="round" />
<path d="M808.9 210.4C811.2 209 817 204 822.3 202C827.6 200 836.4 198.6 840.7 198.3C845 198 846.8 200 848 200.3" fill="none" stroke="#0d161d" stroke-width="1.3" stroke-linejoin="round" stroke-linecap="round" />
<path d="M812.2 219.8C814.6 218 821.3 211.4 826.6 209C831.8 206.6 839.5 205.6 843.5 205.4C847.6 205.1 849.6 207 850.8 207.3" fill="none" stroke="#0d161d" stroke-width="1.3" stroke-linejoin="round" stroke-linecap="round" />
<ellipse cx="843.2" cy="236.3" rx="14.3" ry="12.3" fill="#8fb0c2" stroke="#0d161d" stroke-width="1.6" transform="rotate(-25 843.2 236.3)" />
<ellipse cx="844.6" cy="236.3" rx="9.4" ry="5" fill="#c9d9e1" stroke="#0d161d" stroke-width="1.3" transform="rotate(-5 844.6 236.3)" />
<path d="M841.5 235.9Q841.5 234.9 842.2 234.2L842.2 234.2Q842.9 233.4 843.9 233.4L847.4 233.4Q848.4 233.4 849.2 234.2L849.2 234.2Q849.9 234.9 849.9 235.9L849.9 247.3Q849.9 248.3 848.9 248.3L842.5 248.3Q841.5 248.3 841.5 247.3Z" fill="url(#cyl)" stroke="#0d161d" stroke-width="1.4" stroke-linejoin="round" stroke-linecap="round" />
<path d="M840.4 249.5Q840.4 248 841.9 247.9L849.1 247.6Q850.6 247.6 850.6 249.1L850.8 253.8Q850.8 255.3 850.3 256L850.3 256Q849.9 256.7 850 258.2L850.4 262.3Q850.6 263.8 849.1 263.9L842.5 264.4Q841 264.5 841 263L841 258.2Q841 256.7 840.7 256L840.7 256Q840.4 255.3 840.4 253.8Z" fill="#c9d9e1" stroke="#0d161d" stroke-width="1.6" stroke-linejoin="round" stroke-linecap="round" />
<path d="M840.7 251.8L850.6 251.1" fill="none" stroke="#0d161d" stroke-width="1" stroke-linejoin="round" stroke-linecap="round" />
<path d="M841 257.4L850.3 256.7" fill="none" stroke="#0d161d" stroke-width="1" stroke-linejoin="round" stroke-linecap="round" />
<path d="M845.8 263.8C845.7 265.2 845.8 269.7 845.2 272.3C844.6 274.8 843.7 276.8 842.1 279.3C840.5 281.8 838.3 285 835.7 287.1C833.2 289.2 829.5 290.7 826.6 292C823.6 293.3 821.2 293.9 818.1 294.8C815 295.8 811.5 296.7 808.2 297.7C804.9 298.6 801.6 299.7 798.3 300.5C795.1 301.3 790.1 302.2 788.5 302.6" fill="none" stroke="#0d161d" stroke-width="8.8" stroke-linejoin="round" stroke-linecap="butt" />
<path d="M845.8 263.8C845.7 265.2 845.8 269.7 845.2 272.3C844.6 274.8 843.7 276.8 842.1 279.3C840.5 281.8 838.3 285 835.7 287.1C833.2 289.2 829.5 290.7 826.6 292C823.6 293.3 821.2 293.9 818.1 294.8C815 295.8 811.5 296.7 808.2 297.7C804.9 298.6 801.6 299.7 798.3 300.5C795.1 301.3 790.1 302.2 788.5 302.6" fill="none" stroke="#8fb0c2" stroke-width="5.6" stroke-linejoin="round" stroke-linecap="butt" />
<path d="M845.8 263.8C845.7 265.2 845.8 269.7 845.2 272.3C844.6 274.8 843.7 276.8 842.1 279.3C840.5 281.8 838.3 285 835.7 287.1C833.2 289.2 829.5 290.7 826.6 292C823.6 293.3 821.2 293.9 818.1 294.8C815 295.8 811.5 296.7 808.2 297.7C804.9 298.6 801.6 299.7 798.3 300.5C795.1 301.3 790.1 302.2 788.5 302.6" fill="none" stroke="#e6eef2" stroke-width="2.2" stroke-linejoin="round" stroke-linecap="butt" />
<path d="M816 291.7L817.8 298.8" fill="none" stroke="#0d161d" stroke-width="1.3" stroke-linejoin="round" stroke-linecap="round" />
<path d="M796.9 297L799.1 304" fill="none" stroke="#0d161d" stroke-width="1.3" stroke-linejoin="round" stroke-linecap="round" />
<path d="M773.5 305.4Q773 303.5 774.9 303L788.1 299.5Q790 299 790.5 300.9L791.5 305.1Q792 307 790.2 307.9L787.8 309.1Q786 310 786.9 311.8L788.1 314.2Q789 316 787.1 316.7L783.9 317.8Q782 318.5 781.1 316.7L779.9 314.3Q779 312.5 777.1 312L776.9 312Q775 311.5 774.5 309.6Z" fill="#c3d5de" stroke="#0d161d" stroke-width="1.6" stroke-linejoin="round" stroke-linecap="round" />
<path d="M784.2 318Q784 317 785 316.8L788 316.2Q789 316 789.3 317L790.7 322Q791 323 790.1 323.4L786.9 324.6Q786 325 785.8 324Z" fill="#dfe9ee" stroke="#0d161d" stroke-width="1.3" stroke-linejoin="round" stroke-linecap="round" />
</g>
<g id="thin">
<path d="M897 139.5L877.8 135.2Q868 133 860.9 126L845.8 111.2Q838 103.5 828.5 109.1L663.1 206.3Q651 213.4 644.5 225.8L610.1 291.4Q604.5 302 608.2 313.4L613.9 331Q620 350 621.3 370L621.7 377Q623 397 626.7 416.7L640.3 488.3Q644 508 642.5 527.9L641.9 537Q641 549 649.9 557.1L654.6 561.3Q662 568 671.6 565.3L688.2 560.6Q692 559.5 692.5 563.5L692.5 564Q693 568 689.5 570L677 577.1Q670 581 662.3 583.3L613.7 597.7Q606 600 598.3 597.8L590.6 595.7Q581 593 571.3 595.3L537.7 603.4Q528.9 605.5 525 613.6L489.3 688Q485 697 484.5 705.5L484 714" fill="none" stroke="#0d161d" stroke-width="6.8" stroke-linejoin="round" stroke-linecap="butt" />
<path d="M897 139.5L877.8 135.2Q868 133 860.9 126L845.8 111.2Q838 103.5 828.5 109.1L663.1 206.3Q651 213.4 644.5 225.8L610.1 291.4Q604.5 302 608.2 313.4L613.9 331Q620 350 621.3 370L621.7 377Q623 397 626.7 416.7L640.3 488.3Q644 508 642.5 527.9L641.9 537Q641 549 649.9 557.1L654.6 561.3Q662 568 671.6 565.3L688.2 560.6Q692 559.5 692.5 563.5L692.5 564Q693 568 689.5 570L677 577.1Q670 581 662.3 583.3L613.7 597.7Q606 600 598.3 597.8L590.6 595.7Q581 593 571.3 595.3L537.7 603.4Q528.9 605.5 525 613.6L489.3 688Q485 697 484.5 705.5L484 714" fill="none" stroke="#a3bfcd" stroke-width="3.1" stroke-linejoin="round" stroke-linecap="butt" />
<path d="M897 139.5L877.8 135.2Q868 133 860.9 126L845.8 111.2Q838 103.5 828.5 109.1L663.1 206.3Q651 213.4 644.5 225.8L610.1 291.4Q604.5 302 608.2 313.4L613.9 331Q620 350 621.3 370L621.7 377Q623 397 626.7 416.7L640.3 488.3Q644 508 642.5 527.9L641.9 537Q641 549 649.9 557.1L654.6 561.3Q662 568 671.6 565.3L688.2 560.6Q692 559.5 692.5 563.5L692.5 564Q693 568 689.5 570L677 577.1Q670 581 662.3 583.3L613.7 597.7Q606 600 598.3 597.8L590.6 595.7Q581 593 571.3 595.3L537.7 603.4Q528.9 605.5 525 613.6L489.3 688Q485 697 484.5 705.5L484 714" fill="none" stroke="#dde8ee" stroke-width="1.5" stroke-linejoin="round" stroke-linecap="butt" />
<path d="M641 629L629.9 627.2Q622 626 614.4 623.4L597.5 617.7Q588 614.5 578.3 616.8L562.3 620.6Q553.5 622.7 549.6 630.8L511.9 708.5Q507.5 717.5 507.2 725.8L507 734" fill="none" stroke="#0d161d" stroke-width="6.8" stroke-linejoin="round" stroke-linecap="butt" />
<path d="M641 629L629.9 627.2Q622 626 614.4 623.4L597.5 617.7Q588 614.5 578.3 616.8L562.3 620.6Q553.5 622.7 549.6 630.8L511.9 708.5Q507.5 717.5 507.2 725.8L507 734" fill="none" stroke="#a3bfcd" stroke-width="3.1" stroke-linejoin="round" stroke-linecap="butt" />
<path d="M641 629L629.9 627.2Q622 626 614.4 623.4L597.5 617.7Q588 614.5 578.3 616.8L562.3 620.6Q553.5 622.7 549.6 630.8L511.9 708.5Q507.5 717.5 507.2 725.8L507 734" fill="none" stroke="#dde8ee" stroke-width="1.5" stroke-linejoin="round" stroke-linecap="butt" />
</g>
<g id="conn">
<path d="M892 136.3Q892 135.3 893 135.3L895 135.1Q896 135.1 896 136.1L896.3 142.3Q896.3 143.3 895.3 143.3L893.3 143.5Q892.3 143.5 892.3 142.5Z" fill="#dbe6ec" stroke="#0d161d" stroke-width="1.4" stroke-linejoin="round" stroke-linecap="round" />
<path d="M896 137.7Q896 135.7 898 135.7L901 135.7Q906 135.7 909.5 137L909.5 137Q913 138.3 913.5 141.8L913.7 143.3Q914 145.3 914 147.3L914 154.3Q914 156.3 912 156.3L903.5 156.3Q901.5 156.3 901.5 154.3L901.5 146.3Q901.5 144.3 899.6 143.8L897.9 143.4Q896 142.9 896 140.9Z" fill="url(#cyl)" stroke="#0d161d" stroke-width="1.6" stroke-linejoin="round" stroke-linecap="round" />
<path d="M902 140.8Q908 139.3 913 142.3" fill="none" stroke="#0d161d" stroke-width="1" stroke-linejoin="round" stroke-linecap="round" />
<path d="M901.5 148.3Q908 151.3 914 148.3" fill="none" stroke="#0d161d" stroke-width="1" stroke-linejoin="round" stroke-linecap="round" />
<path d="M897.6 157.8Q897.5 156.3 898.9 155.7L900.6 154.9Q902 154.3 903.5 154.3L912.5 154.3Q914 154.3 915.3 155L917.2 156.1Q918.5 156.8 918.5 158.3L918.5 160.8Q918.5 162.3 917.1 162.9L909.4 166.7Q908 167.3 906.6 166.7L899.4 163.9Q898 163.3 897.9 161.8Z" fill="#a9c2cf" stroke="#0d161d" stroke-width="1.6" stroke-linejoin="round" stroke-linecap="round" />
<path d="M898 158.8L907.5 162.3L918 158.3" fill="none" stroke="#0d161d" stroke-width="1" stroke-linejoin="round" stroke-linecap="round" />
<path d="M907.5 162.3L908 167.3" fill="none" stroke="#0d161d" stroke-width="1" stroke-linejoin="round" stroke-linecap="round" />
<path d="M639 625.5Q639 624.5 640 624.5L642 624.3Q643 624.3 643 625.3L643.3 631.5Q643.3 632.5 642.3 632.5L640.3 632.7Q639.3 632.7 639.3 631.7Z" fill="#dbe6ec" stroke="#0d161d" stroke-width="1.4" stroke-linejoin="round" stroke-linecap="round" />
<path d="M643 626.9Q643 624.9 645 624.9L648 624.9Q653 624.9 656.5 626.2L656.5 626.2Q660 627.5 660.5 631L660.7 632.5Q661 634.5 661 636.5L661 643.5Q661 645.5 659 645.5L650.5 645.5Q648.5 645.5 648.5 643.5L648.5 635.5Q648.5 633.5 646.6 633L644.9 632.6Q643 632.1 643 630.1Z" fill="url(#cyl)" stroke="#0d161d" stroke-width="1.6" stroke-linejoin="round" stroke-linecap="round" />
<path d="M649 630Q655 628.5 660 631.5" fill="none" stroke="#0d161d" stroke-width="1" stroke-linejoin="round" stroke-linecap="round" />
<path d="M648.5 637.5Q655 640.5 661 637.5" fill="none" stroke="#0d161d" stroke-width="1" stroke-linejoin="round" stroke-linecap="round" />
<path d="M644.6 647Q644.5 645.5 645.9 644.9L647.6 644.1Q649 643.5 650.5 643.5L659.5 643.5Q661 643.5 662.3 644.2L664.2 645.3Q665.5 646 665.5 647.5L665.5 650Q665.5 651.5 664.1 652.1L656.4 655.9Q655 656.5 653.6 655.9L646.4 653.1Q645 652.5 644.9 651Z" fill="#a9c2cf" stroke="#0d161d" stroke-width="1.6" stroke-linejoin="round" stroke-linecap="round" />
<path d="M645 648L654.5 651.5L665 647.5" fill="none" stroke="#0d161d" stroke-width="1" stroke-linejoin="round" stroke-linecap="round" />
<path d="M654.5 651.5L655 656.5" fill="none" stroke="#0d161d" stroke-width="1" stroke-linejoin="round" stroke-linecap="round" />
<path d="M480.4 712Q480.4 711 481.4 711L486.6 711Q487.6 711 487.6 712L487.8 715Q487.8 716 486.8 716L481.2 716Q480.2 716 480.2 715Z" fill="#dbe6ec" stroke="#0d161d" stroke-width="1.4" stroke-linejoin="round" stroke-linecap="round" />
<path d="M480.5 717.5Q480.6 716 482.1 716L486.1 716Q487.6 716 487.7 717.5L487.8 720Q488 724 486.5 726.8L486.4 726.9Q485 729.5 482.1 730.1L479.5 730.7Q478 731 476.5 731.2L463.5 732.8Q462 733 461.9 731.5L461.1 722.5Q461 721 462.5 720.9L476.5 719.6Q478 719.5 479.2 719.2L479.2 719.2Q480.4 719 480.5 717.5Z" fill="url(#cylv)" stroke="#0d161d" stroke-width="1.6" stroke-linejoin="round" stroke-linecap="round" />
<path d="M476 719.8L476.8 731.2" fill="none" stroke="#0d161d" stroke-width="1" stroke-linejoin="round" stroke-linecap="round" />
<path d="M470 720.4L470.8 732" fill="none" stroke="#0d161d" stroke-width="1" stroke-linejoin="round" stroke-linecap="round" />
<path d="M456.2 720.3Q457 719 458.4 718.6L459.1 718.4Q460.5 718 461.3 719.2L461.7 719.8Q462.5 721 462.6 722.5L463.4 731.5Q463.5 733 462.7 734.3L461.8 735.7Q461 737 459.6 736.5L459.4 736.5Q458 736 457.3 734.7L455.7 731.3Q455 730 454.9 728.5L454.6 724.5Q454.5 723 455.3 721.7Z" fill="#8fb0c2" stroke="#0d161d" stroke-width="1.7" stroke-linejoin="round" stroke-linecap="round" />
<path d="M456.6 724Q456.5 723 457.4 722.7L458.6 722.3Q459.5 722 459.6 723L460.4 731Q460.5 732 459.6 732.4L458.9 732.6Q458 733 457.9 732Z" fill="#dbe6ec" stroke="#0d161d" stroke-width="1" stroke-linejoin="round" stroke-linecap="round" />
<path d="M503.4 732Q503.4 731 504.4 731L509.6 731Q510.6 731 510.6 732L510.8 735Q510.8 736 509.8 736L504.2 736Q503.2 736 503.2 735Z" fill="#dbe6ec" stroke="#0d161d" stroke-width="1.4" stroke-linejoin="round" stroke-linecap="round" />
<path d="M503.5 737.5Q503.6 736 505.1 736L509.1 736Q510.6 736 510.7 737.5L510.8 740Q511 744 509.5 746.8L509.4 746.9Q508 749.5 505.1 750.1L502.5 750.7Q501 751 499.5 751.2L486.5 752.8Q485 753 484.9 751.5L484.1 742.5Q484 741 485.5 740.9L499.5 739.6Q501 739.5 502.2 739.2L502.2 739.2Q503.4 739 503.5 737.5Z" fill="url(#cylv)" stroke="#0d161d" stroke-width="1.6" stroke-linejoin="round" stroke-linecap="round" />
<path d="M499 739.8L499.8 751.2" fill="none" stroke="#0d161d" stroke-width="1" stroke-linejoin="round" stroke-linecap="round" />
<path d="M493 740.4L493.8 752" fill="none" stroke="#0d161d" stroke-width="1" stroke-linejoin="round" stroke-linecap="round" />
<path d="M479.2 740.3Q480 739 481.4 738.6L482.1 738.4Q483.5 738 484.3 739.2L484.7 739.8Q485.5 741 485.6 742.5L486.4 751.5Q486.5 753 485.7 754.3L484.8 755.7Q484 757 482.6 756.5L482.4 756.5Q481 756 480.3 754.7L478.7 751.3Q478 750 477.9 748.5L477.6 744.5Q477.5 743 478.3 741.7Z" fill="#8fb0c2" stroke="#0d161d" stroke-width="1.7" stroke-linejoin="round" stroke-linecap="round" />
<path d="M479.6 744Q479.5 743 480.4 742.7L481.6 742.3Q482.5 742 482.6 743L483.4 751Q483.5 752 482.6 752.4L481.9 752.6Q481 753 480.9 752Z" fill="#dbe6ec" stroke="#0d161d" stroke-width="1" stroke-linejoin="round" stroke-linecap="round" />
</g>
<g id="twin">
<path d="M266.5 769.5L287.2 760.6Q300 755 309 751.8L309 751.8Q318 748.5 332 747.9L406 745" fill="none" stroke="#0d161d" stroke-width="7" stroke-linejoin="round" stroke-linecap="butt" />
<path d="M266.5 769.5L287.2 760.6Q300 755 309 751.8L309 751.8Q318 748.5 332 747.9L406 745" fill="none" stroke="#a3bfcd" stroke-width="3.2" stroke-linejoin="round" stroke-linecap="butt" />
<path d="M266.5 769.5L287.2 760.6Q300 755 309 751.8L309 751.8Q318 748.5 332 747.9L406 745" fill="none" stroke="#dde8ee" stroke-width="1.6" stroke-linejoin="round" stroke-linecap="butt" />
<path d="M265 761.5L285.9 749.1Q298 742 307 739.2L307 739.2Q316 736.5 330 735.8L401 732" fill="none" stroke="#0d161d" stroke-width="7" stroke-linejoin="round" stroke-linecap="butt" />
<path d="M265 761.5L285.9 749.1Q298 742 307 739.2L307 739.2Q316 736.5 330 735.8L401 732" fill="none" stroke="#a3bfcd" stroke-width="3.2" stroke-linejoin="round" stroke-linecap="butt" />
<path d="M265 761.5L285.9 749.1Q298 742 307 739.2L307 739.2Q316 736.5 330 735.8L401 732" fill="none" stroke="#dde8ee" stroke-width="1.6" stroke-linejoin="round" stroke-linecap="butt" />
<g transform="translate(401 731.7) rotate(-3)"><rect x="0" y="-3.4" width="22" height="6.8" fill="url(#cylv)" stroke="#0d161d" stroke-width="1.1"/><rect x="3" y="-5.6" width="4.2" height="11.2" rx="2" fill="url(#cylv)" stroke="#0d161d" stroke-width="1.1"/><rect x="10" y="-5.6" width="4.2" height="11.2" rx="2" fill="url(#cylv)" stroke="#0d161d" stroke-width="1.1"/><rect x="17" y="-5.6" width="4.2" height="11.2" rx="2" fill="url(#cylv)" stroke="#0d161d" stroke-width="1.1"/></g>
<g transform="translate(406 745) rotate(-3)"><rect x="0" y="-3.4" width="22" height="6.8" fill="url(#cylv)" stroke="#0d161d" stroke-width="1.1"/><rect x="3" y="-5.6" width="4.2" height="11.2" rx="2" fill="url(#cylv)" stroke="#0d161d" stroke-width="1.1"/><rect x="10" y="-5.6" width="4.2" height="11.2" rx="2" fill="url(#cylv)" stroke="#0d161d" stroke-width="1.1"/><rect x="17" y="-5.6" width="4.2" height="11.2" rx="2" fill="url(#cylv)" stroke="#0d161d" stroke-width="1.1"/></g>
</g>
<g id="clip4">
<path d="M276.7 659.6Q276.7 658.1 278 657.4L283.9 654.1Q285.2 653.3 286.5 653.8L286.5 653.8Q287.7 654.4 288.2 655.8L288.9 657.9Q289.4 659.4 288.5 660.6L287.8 661.5Q286.9 662.7 288.1 663.1L288.1 663.1Q289.2 663.5 290.5 662.8L294.8 660.3Q296 659.5 297.5 660L297.5 660Q298.9 660.6 299.5 661.9L301.1 665.6Q301.7 667 301 668.4L300.8 668.9Q300.1 670.2 301.4 669.5L305.6 667.3Q306.9 666.6 308.4 666.9L309.5 667.1Q311 667.4 312.1 668.4L313.8 669.7Q315 670.6 315.5 672.1L316.1 674.1Q316.6 675.5 315.7 676.7L315.1 677.5Q314.2 678.7 315.4 679.1L315.4 679.1Q316.6 679.5 317.9 678.7L321.8 676.3Q323.1 675.5 324.4 676.2L324.9 676.4Q326.3 677.1 326.9 678.5L328.1 681.4Q328.7 682.7 328.3 684.2L327.9 685.3Q327.5 686.8 328.8 686L333.9 682.7Q335.2 681.9 335.8 682.7L335.8 682.7Q336.4 683.5 336.4 685L336.4 693.3Q336.4 694.8 335.2 695.8L326.6 702.8Q325.5 703.7 324.1 703L323.6 702.8Q322.3 702.1 320.9 701.5L308.3 695.5Q306.9 694.8 305.6 694.2L293.8 688.3Q292.4 687.6 291.3 686.6L280.6 677.3Q279.5 676.3 278.9 674.9L277.7 672Q277.1 670.6 277 669.1Z" fill="#a9c2cf" stroke="#0d161d" stroke-width="2" stroke-linejoin="round" stroke-linecap="round" />
<path d="M280 672.4Q279.9 671.5 280.8 671L287.1 667.9Q288 667.4 288 668.4L288 675.3Q288 676.3 287 676.5L284.5 677Q283.5 677.3 282.8 676.6L281.1 675.3Q280.3 674.7 280.2 673.7Z" fill="#e6eef2" stroke="#0d161d" stroke-width="1.2" stroke-linejoin="round" stroke-linecap="round" />
<path d="M292.3 677.2Q291.6 676.5 292.5 676L298 673.5Q298.9 673.1 298.9 674.1L298.9 678.7Q298.9 679.7 297.9 679.9L296.6 680.2Q295.6 680.5 294.9 679.8Z" fill="#e6eef2" stroke="#0d161d" stroke-width="1.2" stroke-linejoin="round" stroke-linecap="round" />
<path d="M309.1 686Q308.5 685.2 309.5 685.2L314.4 685.2Q315.4 685.2 315.4 686.2L315.2 690.6Q315.2 691.6 314.2 691.2L312.7 690.6Q311.8 690.2 311.2 689.3Z" fill="#e6eef2" stroke="#0d161d" stroke-width="1.2" stroke-linejoin="round" stroke-linecap="round" />
<path d="M320.5 696.4Q319.8 695.6 320.6 695L327.5 689.8Q328.3 689.2 328.4 690.2L328.7 695.5Q328.7 696.5 327.9 697L324.7 699.3Q323.9 699.8 323.2 699.1Z" fill="#e6eef2" stroke="#0d161d" stroke-width="1.2" stroke-linejoin="round" stroke-linecap="round" />
<path d="M278.8 660.2Q278.3 659.4 279.1 658.8L284.3 655.5Q285.2 654.9 285.7 655.7L287.8 658.7Q288.4 659.5 287.5 660L282 663.3Q281.1 663.8 280.6 662.9Z" fill="#8fb0c2" stroke="#0d161d" stroke-width="1.2" stroke-linejoin="round" stroke-linecap="round" />
<path d="M290.4 665.3Q290 664.4 290.9 663.9L295.6 661.2Q296.5 660.7 297 661.6L300 666.7Q300.5 667.6 299.6 668L294.1 670.8Q293.2 671.3 292.8 670.4Z" fill="#8fb0c2" stroke="#0d161d" stroke-width="1.2" stroke-linejoin="round" stroke-linecap="round" />
<path d="M302.1 671.9Q301.3 671.3 302.2 670.8L306.1 668.5Q306.9 668 307.8 668.5L314.1 671.9Q315 672.4 314.7 673.4L313.7 677.1Q313.4 678.1 312.5 677.7L307.9 676Q306.9 675.6 306.1 675Z" fill="#8fb0c2" stroke="#0d161d" stroke-width="1.2" stroke-linejoin="round" stroke-linecap="round" />
<path d="M317.1 681.4Q316.6 680.5 317.5 680L322.2 677.3Q323.1 676.9 323.6 677.7L327.3 682.9Q327.9 683.7 327.1 684.3L321.5 688Q320.6 688.5 320.2 687.7Z" fill="#8fb0c2" stroke="#0d161d" stroke-width="1.2" stroke-linejoin="round" stroke-linecap="round" />
<path d="M328.8 687.9Q328.7 686.9 329.5 686.4L334.5 683.1Q335.3 682.6 335.4 683.6L336.1 693.2Q336.1 694.2 335.3 694.7L330.4 697.7Q329.5 698.2 329.4 697.2Z" fill="#9ab8c8" stroke="#0d161d" stroke-width="1.2" stroke-linejoin="round" stroke-linecap="round" />
<path d="M289.2 663.5L289.2 678.7L292.4 681.9" fill="none" stroke="#0d161d" stroke-width="1.2" stroke-linejoin="round" stroke-linecap="round" />
<path d="M300.1 670.2L300.1 681.9L302.9 685.2" fill="none" stroke="#0d161d" stroke-width="1.2" stroke-linejoin="round" stroke-linecap="round" />
<path d="M306.1 675.9L306.1 693.2" fill="none" stroke="#0d161d" stroke-width="1.2" stroke-linejoin="round" stroke-linecap="round" />
<path d="M316.6 679.7L317 691.6L320.6 695.6" fill="none" stroke="#0d161d" stroke-width="1.2" stroke-linejoin="round" stroke-linecap="round" />
<path d="M279.5 676.3L292.4 685.2L306.9 692.4L323.1 700.5" fill="none" stroke="#0d161d" stroke-width="1.2" stroke-linejoin="round" stroke-linecap="round" />
</g>
<g id="hose9">
<rect x="326" y="815" width="8.4" height="31" fill="url(#cyl)" stroke="#0d161d" stroke-width="1.1"/>
<path d="M321.4 848Q321.5 846 323.5 846L337 846Q339 846 339.1 848L339.4 859Q339.5 861 337.9 862.2L336.6 863.3Q335 864.5 333 864.5L327 864.5Q325 864.5 323.5 863.2L322.5 862.3Q321 861 321.1 859Z" fill="url(#cyl)" stroke="#0d161d" stroke-width="1.7" stroke-linejoin="round" stroke-linecap="round" />
<ellipse cx="330.3" cy="846.5" rx="8.8" ry="3" fill="#c3d5de" stroke="#0d161d" stroke-width="1.3" />
<path d="M321.3 857Q330 861 339.3 857" fill="none" stroke="#0d161d" stroke-width="1" stroke-linejoin="round" stroke-linecap="round" />
<path d="M330 818C330 816 329.7 809.1 330 806C330.3 802.9 330.8 801.2 332 799.5C333.2 797.8 335.6 796.3 337.5 796C339.4 795.7 341.8 796.2 343.5 797.5C345.2 798.8 345.1 798.8 348 804C350.9 809.2 356.7 820.9 361 829C365.3 837.1 371.3 847.4 373.8 852.5C376.3 857.6 376.3 857.3 376 859.5C375.7 861.7 373.7 864.1 372 865.8C370.3 867.5 372.8 864.8 366 869.8C359.2 874.8 342.5 887.8 331 896C319.5 904.2 303.5 914 297 919C290.5 924 293 923.5 292 926C291 928.5 290.7 930.8 291 934C291.3 937.2 292.1 940.7 294 945C295.9 949.3 299.5 956 302.5 960C305.5 964 308.7 966.5 312 969C315.3 971.5 316.6 971.9 322.5 975C328.4 978.1 342.4 984.3 347.5 987.5C352.6 990.7 351.3 991.4 353 994C354.7 996.6 355.5 1000.3 357.5 1003C359.5 1005.7 358.3 1005.8 365 1010C371.7 1014.2 388.3 1022.8 397.5 1028C406.7 1033.2 407.1 1033.8 420 1041.5C432.9 1049.2 457.5 1063.8 475 1074C492.5 1084.2 514.2 1097.2 525 1103C535.8 1108.8 535 1107.4 540 1108.5C545 1109.6 550 1110.2 555 1109.5C560 1108.8 565 1106.6 570 1104.5C575 1102.4 580.6 1099.2 585 1097C589.4 1094.8 594.6 1092 596.5 1091" fill="none" stroke="#0d161d" stroke-width="13.6" stroke-linejoin="round" stroke-linecap="butt" />
<path d="M330 818C330 816 329.7 809.1 330 806C330.3 802.9 330.8 801.2 332 799.5C333.2 797.8 335.6 796.3 337.5 796C339.4 795.7 341.8 796.2 343.5 797.5C345.2 798.8 345.1 798.8 348 804C350.9 809.2 356.7 820.9 361 829C365.3 837.1 371.3 847.4 373.8 852.5C376.3 857.6 376.3 857.3 376 859.5C375.7 861.7 373.7 864.1 372 865.8C370.3 867.5 372.8 864.8 366 869.8C359.2 874.8 342.5 887.8 331 896C319.5 904.2 303.5 914 297 919C290.5 924 293 923.5 292 926C291 928.5 290.7 930.8 291 934C291.3 937.2 292.1 940.7 294 945C295.9 949.3 299.5 956 302.5 960C305.5 964 308.7 966.5 312 969C315.3 971.5 316.6 971.9 322.5 975C328.4 978.1 342.4 984.3 347.5 987.5C352.6 990.7 351.3 991.4 353 994C354.7 996.6 355.5 1000.3 357.5 1003C359.5 1005.7 358.3 1005.8 365 1010C371.7 1014.2 388.3 1022.8 397.5 1028C406.7 1033.2 407.1 1033.8 420 1041.5C432.9 1049.2 457.5 1063.8 475 1074C492.5 1084.2 514.2 1097.2 525 1103C535.8 1108.8 535 1107.4 540 1108.5C545 1109.6 550 1110.2 555 1109.5C560 1108.8 565 1106.6 570 1104.5C575 1102.4 580.6 1099.2 585 1097C589.4 1094.8 594.6 1092 596.5 1091" fill="none" stroke="#86a9bc" stroke-width="10.2" stroke-linejoin="round" stroke-linecap="butt" />
<path d="M330 818C330 816 329.7 809.1 330 806C330.3 802.9 330.8 801.2 332 799.5C333.2 797.8 335.6 796.3 337.5 796C339.4 795.7 341.8 796.2 343.5 797.5C345.2 798.8 345.1 798.8 348 804C350.9 809.2 356.7 820.9 361 829C365.3 837.1 371.3 847.4 373.8 852.5C376.3 857.6 376.3 857.3 376 859.5C375.7 861.7 373.7 864.1 372 865.8C370.3 867.5 372.8 864.8 366 869.8C359.2 874.8 342.5 887.8 331 896C319.5 904.2 303.5 914 297 919C290.5 924 293 923.5 292 926C291 928.5 290.7 930.8 291 934C291.3 937.2 292.1 940.7 294 945C295.9 949.3 299.5 956 302.5 960C305.5 964 308.7 966.5 312 969C315.3 971.5 316.6 971.9 322.5 975C328.4 978.1 342.4 984.3 347.5 987.5C352.6 990.7 351.3 991.4 353 994C354.7 996.6 355.5 1000.3 357.5 1003C359.5 1005.7 358.3 1005.8 365 1010C371.7 1014.2 388.3 1022.8 397.5 1028C406.7 1033.2 407.1 1033.8 420 1041.5C432.9 1049.2 457.5 1063.8 475 1074C492.5 1084.2 514.2 1097.2 525 1103C535.8 1108.8 535 1107.4 540 1108.5C545 1109.6 550 1110.2 555 1109.5C560 1108.8 565 1106.6 570 1104.5C575 1102.4 580.6 1099.2 585 1097C589.4 1094.8 594.6 1092 596.5 1091" fill="none" stroke="#0d161d" stroke-width="8.6" stroke-linejoin="round" stroke-linecap="butt" stroke-dasharray="1.5 3.3"/>
<path d="M330 818C330 816 329.7 809.1 330 806C330.3 802.9 330.8 801.2 332 799.5C333.2 797.8 335.6 796.3 337.5 796C339.4 795.7 341.8 796.2 343.5 797.5C345.2 798.8 345.1 798.8 348 804C350.9 809.2 356.7 820.9 361 829C365.3 837.1 371.3 847.4 373.8 852.5C376.3 857.6 376.3 857.3 376 859.5C375.7 861.7 373.7 864.1 372 865.8C370.3 867.5 372.8 864.8 366 869.8C359.2 874.8 342.5 887.8 331 896C319.5 904.2 303.5 914 297 919C290.5 924 293 923.5 292 926C291 928.5 290.7 930.8 291 934C291.3 937.2 292.1 940.7 294 945C295.9 949.3 299.5 956 302.5 960C305.5 964 308.7 966.5 312 969C315.3 971.5 316.6 971.9 322.5 975C328.4 978.1 342.4 984.3 347.5 987.5C352.6 990.7 351.3 991.4 353 994C354.7 996.6 355.5 1000.3 357.5 1003C359.5 1005.7 358.3 1005.8 365 1010C371.7 1014.2 388.3 1022.8 397.5 1028C406.7 1033.2 407.1 1033.8 420 1041.5C432.9 1049.2 457.5 1063.8 475 1074C492.5 1084.2 514.2 1097.2 525 1103C535.8 1108.8 535 1107.4 540 1108.5C545 1109.6 550 1110.2 555 1109.5C560 1108.8 565 1106.6 570 1104.5C575 1102.4 580.6 1099.2 585 1097C589.4 1094.8 594.6 1092 596.5 1091" fill="none" stroke="#86a9bc" stroke-width="5.4" stroke-linejoin="round" stroke-linecap="butt" />
<path d="M330 818C330 816 329.7 809.1 330 806C330.3 802.9 330.8 801.2 332 799.5C333.2 797.8 335.6 796.3 337.5 796C339.4 795.7 341.8 796.2 343.5 797.5C345.2 798.8 345.1 798.8 348 804C350.9 809.2 356.7 820.9 361 829C365.3 837.1 371.3 847.4 373.8 852.5C376.3 857.6 376.3 857.3 376 859.5C375.7 861.7 373.7 864.1 372 865.8C370.3 867.5 372.8 864.8 366 869.8C359.2 874.8 342.5 887.8 331 896C319.5 904.2 303.5 914 297 919C290.5 924 293 923.5 292 926C291 928.5 290.7 930.8 291 934C291.3 937.2 292.1 940.7 294 945C295.9 949.3 299.5 956 302.5 960C305.5 964 308.7 966.5 312 969C315.3 971.5 316.6 971.9 322.5 975C328.4 978.1 342.4 984.3 347.5 987.5C352.6 990.7 351.3 991.4 353 994C354.7 996.6 355.5 1000.3 357.5 1003C359.5 1005.7 358.3 1005.8 365 1010C371.7 1014.2 388.3 1022.8 397.5 1028C406.7 1033.2 407.1 1033.8 420 1041.5C432.9 1049.2 457.5 1063.8 475 1074C492.5 1084.2 514.2 1097.2 525 1103C535.8 1108.8 535 1107.4 540 1108.5C545 1109.6 550 1110.2 555 1109.5C560 1108.8 565 1106.6 570 1104.5C575 1102.4 580.6 1099.2 585 1097C589.4 1094.8 594.6 1092 596.5 1091" fill="none" stroke="#d5e2e9" stroke-width="3.5" stroke-linejoin="round" stroke-linecap="butt" />
<path d="M593.5 1085.5Q602 1084 602.5 1090.5Q603 1097 598 1097.5" fill="#8fb0c2" stroke="#0d161d" stroke-width="1.8" stroke-linejoin="round" stroke-linecap="round" />
</g>
<g id="hose10">
<path d="M182 1219.5Q182 1218 183.5 1218L187.5 1218Q189 1218 189.1 1219.5L189.4 1222.5Q189.5 1224 190.9 1224.5L193.6 1225.5Q195 1226 195 1227.5L195 1228.5Q195 1230 193.6 1230.6L191.4 1231.4Q190 1232 190 1233.5L190 1237.5Q190 1239 188.7 1239.8L187.3 1240.7Q186 1241.5 184.6 1241.1L182.4 1240.4Q181 1240 181 1238.5L181 1233.5Q181 1232 179.7 1231.3L176.8 1229.7Q175.5 1229 175.7 1227.5L175.8 1226.5Q176 1225 177.5 1224.6L180.5 1223.9Q182 1223.5 182 1222Z" fill="#c3d5de" stroke="#0d161d" stroke-width="1.6" stroke-linejoin="round" stroke-linecap="round" />
<path d="M116.9 1047.8Q116 1046 117.1 1044.3L118.9 1041.7Q120 1040 122 1039.7L125 1039.3Q127 1039 128.7 1040.1L131.3 1041.9Q133 1043 133.2 1045L133.8 1050Q134 1052 135.6 1053.2L137.4 1054.8Q139 1056 137.8 1057.6L137.2 1058.4Q136 1060 134.3 1058.9L128.7 1055.1Q127 1054 125 1054L122 1054Q120 1054 119.1 1052.2Z" fill="#c3d5de" stroke="#0d161d" stroke-width="1.4" stroke-linejoin="round" stroke-linecap="round" />
<path d="M115 1052l3 0l-1 4" fill="none" stroke="#0d161d" stroke-width="1.2" stroke-linejoin="round" stroke-linecap="round" />
<path d="M235 984.5C230.8 985.9 218.8 989.8 210 993C201.2 996.2 188 1000.9 182 1003.5C176 1006.1 178.2 1004.1 174 1008.5C169.8 1012.9 162.7 1022.7 157 1030C151.3 1037.3 144.7 1046.3 140 1052.5C135.3 1058.7 131.5 1062.1 129 1067C126.5 1071.9 126.2 1076.5 125 1082C123.8 1087.5 122.9 1092.8 122 1100C121.1 1107.2 120.7 1117.8 119.5 1125C118.3 1132.2 116.9 1137.2 115 1143C113.1 1148.8 109.6 1155.1 108 1160C106.4 1164.9 105.5 1169 105.5 1172.5C105.5 1176 106.6 1178.5 108 1181C109.4 1183.5 110.8 1184.7 114 1187.5C117.2 1190.3 122.3 1195.7 127.5 1198C132.7 1200.3 138.3 1200.4 145 1201.5C151.7 1202.6 161.7 1203.4 167.5 1204.5C173.3 1205.6 175.9 1206.2 180 1208C184.1 1209.8 188.7 1212.9 192 1215C195.3 1217.1 197.8 1219.6 200 1220.5C202.2 1221.4 204.2 1221.4 205.5 1220.5C206.8 1219.6 207.3 1217.8 207.5 1215C207.7 1212.2 206.4 1206.9 206.5 1204C206.6 1201.1 206.9 1198.8 208 1197.5C209.1 1196.2 210.7 1195.5 213 1196C215.3 1196.5 217.8 1198.2 222 1200.5C226.2 1202.8 235.3 1208 238 1209.5" fill="none" stroke="#0d161d" stroke-width="11" stroke-linejoin="round" stroke-linecap="butt" />
<path d="M235 984.5C230.8 985.9 218.8 989.8 210 993C201.2 996.2 188 1000.9 182 1003.5C176 1006.1 178.2 1004.1 174 1008.5C169.8 1012.9 162.7 1022.7 157 1030C151.3 1037.3 144.7 1046.3 140 1052.5C135.3 1058.7 131.5 1062.1 129 1067C126.5 1071.9 126.2 1076.5 125 1082C123.8 1087.5 122.9 1092.8 122 1100C121.1 1107.2 120.7 1117.8 119.5 1125C118.3 1132.2 116.9 1137.2 115 1143C113.1 1148.8 109.6 1155.1 108 1160C106.4 1164.9 105.5 1169 105.5 1172.5C105.5 1176 106.6 1178.5 108 1181C109.4 1183.5 110.8 1184.7 114 1187.5C117.2 1190.3 122.3 1195.7 127.5 1198C132.7 1200.3 138.3 1200.4 145 1201.5C151.7 1202.6 161.7 1203.4 167.5 1204.5C173.3 1205.6 175.9 1206.2 180 1208C184.1 1209.8 188.7 1212.9 192 1215C195.3 1217.1 197.8 1219.6 200 1220.5C202.2 1221.4 204.2 1221.4 205.5 1220.5C206.8 1219.6 207.3 1217.8 207.5 1215C207.7 1212.2 206.4 1206.9 206.5 1204C206.6 1201.1 206.9 1198.8 208 1197.5C209.1 1196.2 210.7 1195.5 213 1196C215.3 1196.5 217.8 1198.2 222 1200.5C226.2 1202.8 235.3 1208 238 1209.5" fill="none" stroke="#86a9bc" stroke-width="7.8" stroke-linejoin="round" stroke-linecap="butt" />
<path d="M235 984.5C230.8 985.9 218.8 989.8 210 993C201.2 996.2 188 1000.9 182 1003.5C176 1006.1 178.2 1004.1 174 1008.5C169.8 1012.9 162.7 1022.7 157 1030C151.3 1037.3 144.7 1046.3 140 1052.5C135.3 1058.7 131.5 1062.1 129 1067C126.5 1071.9 126.2 1076.5 125 1082C123.8 1087.5 122.9 1092.8 122 1100C121.1 1107.2 120.7 1117.8 119.5 1125C118.3 1132.2 116.9 1137.2 115 1143C113.1 1148.8 109.6 1155.1 108 1160C106.4 1164.9 105.5 1169 105.5 1172.5C105.5 1176 106.6 1178.5 108 1181C109.4 1183.5 110.8 1184.7 114 1187.5C117.2 1190.3 122.3 1195.7 127.5 1198C132.7 1200.3 138.3 1200.4 145 1201.5C151.7 1202.6 161.7 1203.4 167.5 1204.5C173.3 1205.6 175.9 1206.2 180 1208C184.1 1209.8 188.7 1212.9 192 1215C195.3 1217.1 197.8 1219.6 200 1220.5C202.2 1221.4 204.2 1221.4 205.5 1220.5C206.8 1219.6 207.3 1217.8 207.5 1215C207.7 1212.2 206.4 1206.9 206.5 1204C206.6 1201.1 206.9 1198.8 208 1197.5C209.1 1196.2 210.7 1195.5 213 1196C215.3 1196.5 217.8 1198.2 222 1200.5C226.2 1202.8 235.3 1208 238 1209.5" fill="none" stroke="#0d161d" stroke-width="6.2" stroke-linejoin="round" stroke-linecap="butt" stroke-dasharray="1.5 3.3"/>
<path d="M235 984.5C230.8 985.9 218.8 989.8 210 993C201.2 996.2 188 1000.9 182 1003.5C176 1006.1 178.2 1004.1 174 1008.5C169.8 1012.9 162.7 1022.7 157 1030C151.3 1037.3 144.7 1046.3 140 1052.5C135.3 1058.7 131.5 1062.1 129 1067C126.5 1071.9 126.2 1076.5 125 1082C123.8 1087.5 122.9 1092.8 122 1100C121.1 1107.2 120.7 1117.8 119.5 1125C118.3 1132.2 116.9 1137.2 115 1143C113.1 1148.8 109.6 1155.1 108 1160C106.4 1164.9 105.5 1169 105.5 1172.5C105.5 1176 106.6 1178.5 108 1181C109.4 1183.5 110.8 1184.7 114 1187.5C117.2 1190.3 122.3 1195.7 127.5 1198C132.7 1200.3 138.3 1200.4 145 1201.5C151.7 1202.6 161.7 1203.4 167.5 1204.5C173.3 1205.6 175.9 1206.2 180 1208C184.1 1209.8 188.7 1212.9 192 1215C195.3 1217.1 197.8 1219.6 200 1220.5C202.2 1221.4 204.2 1221.4 205.5 1220.5C206.8 1219.6 207.3 1217.8 207.5 1215C207.7 1212.2 206.4 1206.9 206.5 1204C206.6 1201.1 206.9 1198.8 208 1197.5C209.1 1196.2 210.7 1195.5 213 1196C215.3 1196.5 217.8 1198.2 222 1200.5C226.2 1202.8 235.3 1208 238 1209.5" fill="none" stroke="#86a9bc" stroke-width="3" stroke-linejoin="round" stroke-linecap="butt" />
<path d="M235 984.5C230.8 985.9 218.8 989.8 210 993C201.2 996.2 188 1000.9 182 1003.5C176 1006.1 178.2 1004.1 174 1008.5C169.8 1012.9 162.7 1022.7 157 1030C151.3 1037.3 144.7 1046.3 140 1052.5C135.3 1058.7 131.5 1062.1 129 1067C126.5 1071.9 126.2 1076.5 125 1082C123.8 1087.5 122.9 1092.8 122 1100C121.1 1107.2 120.7 1117.8 119.5 1125C118.3 1132.2 116.9 1137.2 115 1143C113.1 1148.8 109.6 1155.1 108 1160C106.4 1164.9 105.5 1169 105.5 1172.5C105.5 1176 106.6 1178.5 108 1181C109.4 1183.5 110.8 1184.7 114 1187.5C117.2 1190.3 122.3 1195.7 127.5 1198C132.7 1200.3 138.3 1200.4 145 1201.5C151.7 1202.6 161.7 1203.4 167.5 1204.5C173.3 1205.6 175.9 1206.2 180 1208C184.1 1209.8 188.7 1212.9 192 1215C195.3 1217.1 197.8 1219.6 200 1220.5C202.2 1221.4 204.2 1221.4 205.5 1220.5C206.8 1219.6 207.3 1217.8 207.5 1215C207.7 1212.2 206.4 1206.9 206.5 1204C206.6 1201.1 206.9 1198.8 208 1197.5C209.1 1196.2 210.7 1195.5 213 1196C215.3 1196.5 217.8 1198.2 222 1200.5C226.2 1202.8 235.3 1208 238 1209.5" fill="none" stroke="#d5e2e9" stroke-width="2.7" stroke-linejoin="round" stroke-linecap="butt" />
<ellipse cx="238.8" cy="1210" rx="2.8" ry="4.8" fill="#e3ecf1" stroke="#0d161d" stroke-width="1.4" transform="rotate(-28 238.8 1210)" />
<path d="M133.5 1050.5L145.5 1057.5L142 1062.5L130 1055.5Z" fill="#e3ecf1" stroke="#0d161d" stroke-width="1.3" stroke-linejoin="round" stroke-linecap="round" />
<path d="M108.5 1183L119.5 1176.5L123 1182L112 1189.5Z" fill="#e3ecf1" stroke="#0d161d" stroke-width="1.3" stroke-linejoin="round" stroke-linecap="round" />
<path d="M120.2 1178.1Q119 1176.5 120.2 1174.9L121.8 1172.6Q123 1171 124.9 1171.7L126.1 1172.3Q128 1173 128.4 1175L129.1 1178Q129.5 1180 128 1181.3L126.5 1182.7Q125 1184 123.8 1182.4Z" fill="#a9c2cf" stroke="#0d161d" stroke-width="1.3" stroke-linejoin="round" stroke-linecap="round" />
<path d="M186 1206.5L198 1211.5L196.5 1216.5L184 1211.5Z" fill="#e3ecf1" stroke="#0d161d" stroke-width="1.3" stroke-linejoin="round" stroke-linecap="round" />
<path d="M231.2 981.5Q231 979.5 232.9 979L236.1 978.1Q240 977 244 977.5L245.5 977.8Q251 978.5 253.5 982.2L253.5 982.2Q256 986 256.5 990.5L256.8 993Q257 995 255 995L242 995Q240 995 240 993L240 992.5Q240 990.5 238 990.5L234 990.5Q232 990.5 231.8 988.5Z" fill="url(#cyl)" stroke="#0d161d" stroke-width="1.7" stroke-linejoin="round" stroke-linecap="round" />
<path d="M239.1 996Q239 994 241 994L255.5 994Q257.5 994 257.6 996L257.9 1004.5Q258 1006.5 256.4 1007.7L254.6 1009.3Q253 1010.5 251 1010.5L246 1010.5Q244 1010.5 242.5 1009.2L241 1007.8Q239.5 1006.5 239.4 1004.5Z" fill="url(#cyl)" stroke="#0d161d" stroke-width="1.7" stroke-linejoin="round" stroke-linecap="round" />
<path d="M239.3 1002Q248 1006 258 1002" fill="none" stroke="#0d161d" stroke-width="1" stroke-linejoin="round" stroke-linecap="round" />
<path d="M240 990Q244 984 250 979" fill="none" stroke="#0d161d" stroke-width="1" stroke-linejoin="round" stroke-linecap="round" />
</g>
<g id="bracket6">
<path d="M296.2 1093.2Q296.2 1091.2 297.9 1090.1L303.4 1086.2Q305 1085 305.3 1087L306.7 1095Q307 1097 308.6 1098.2L309.6 1098.8Q311.2 1100 313.2 1099.6L324.3 1097.4Q326.2 1097 327.3 1098.7L327.9 1099.6Q329 1101.2 328.5 1103.2L328.5 1103.6Q328 1105.5 326.1 1106L320.7 1107.5Q318.8 1108 318.4 1110L317.9 1112.5Q317.5 1114.5 315.7 1115.3L313.3 1116.2Q311.5 1117 310.3 1115.4L307.4 1111.6Q306.2 1110 304.3 1109.6L298.2 1108.4Q296.2 1108 296.2 1106Z" fill="#9ab8c8" stroke="#0d161d" stroke-width="1.7" stroke-linejoin="round" stroke-linecap="round" />
<ellipse cx="320.2" cy="1102.8" rx="2.4" ry="1.8" fill="#fff" stroke="#0d161d" stroke-width="1.2" />
<path d="M213.7 1104.6Q212.5 1103 214.4 1102.3L268.1 1083.7Q270 1083 271.1 1081.3L273.9 1076.7Q275 1075 276.9 1074.5L283.1 1073Q285 1072.5 287 1072.9L301.8 1076.1Q303.8 1076.5 302.8 1078.3L297.2 1089.5Q296.2 1091.2 296.2 1093.2L296.2 1148Q296.2 1150 297.6 1151.4L384.9 1242.3Q386.2 1243.8 387.1 1245.6L391.6 1255.2Q392.5 1257 390.5 1256.7L352 1250.8Q350 1250.5 348 1250.4L322 1248.9Q320 1248.8 318 1248.8L294.5 1249.4Q292.5 1249.5 290.7 1248.7L287.3 1247.1Q285.5 1246.2 285.3 1244.3L285.2 1243.2Q285 1241.2 285.4 1239.3L290.8 1215.7Q291.2 1213.8 290.1 1212.1Z" fill="#a3bccb" stroke="#0d161d" stroke-width="2" stroke-linejoin="round" stroke-linecap="round" />
<path d="M336 1190Q333.8 1188 336.5 1186.8L341.7 1184.7Q344.5 1183.5 346.7 1185.5L349.3 1188Q351.5 1190 351.8 1192.2L351.8 1192.2Q352 1194.5 350.2 1196.9L349.3 1198.1Q347.5 1200.5 345.3 1198.5Z" fill="#b3c9d5" stroke="#0d161d" stroke-width="1.6" stroke-linejoin="round" stroke-linecap="round" />
<ellipse cx="344" cy="1193" rx="2" ry="1.8" fill="#fff" stroke="#0d161d" stroke-width="1.2" />
<path d="M384.3 1244.9Q383.8 1242.5 385.2 1240.5L388.5 1235.8Q390 1233.8 392.4 1234.4L397.6 1235.6Q400 1236.2 402.5 1236.2L403 1236.2Q405.5 1236.2 406.6 1238.5L407.9 1241.5Q409 1243.8 407.8 1245.9L407.5 1246.6Q406.2 1248.8 404.2 1250.2L395.8 1256.1Q393.8 1257.5 391.6 1256.2L388.4 1254.3Q386.2 1253 385.7 1250.6Z" fill="#b3c9d5" stroke="#0d161d" stroke-width="1.7" stroke-linejoin="round" stroke-linecap="round" />
<path d="M387.5 1242.5L393 1237L398.8 1239.5L397.5 1247.5L391.2 1250Z" fill="#6f96ab" stroke="#0d161d" stroke-width="1.2" stroke-linejoin="round" stroke-linecap="round" />
<path d="M398.8 1239.5L405 1237.5L407.5 1243.8L400 1248.8L397.5 1247.5Z" fill="#8fb0c2" stroke="#0d161d" stroke-width="1.2" stroke-linejoin="round" stroke-linecap="round" />
<path d="M385.5 1247.5L392.5 1250L400 1250L393.8 1257L387 1253.8Z" fill="#dbe6ec" stroke="#0d161d" stroke-width="1.2" stroke-linejoin="round" stroke-linecap="round" />
<path d="M213.8 1103.5L230 1108L253.8 1112.5L275 1103.8L296.2 1093L296.2 1150L263.8 1166.8L253.8 1112.5Z" fill="#6a93a9" stroke="#0d161d" stroke-width="1.3" stroke-linejoin="round" stroke-linecap="round" />
<path d="M253.8 1112.5L296.2 1093L296.2 1150L263.8 1166.8Z" fill="#6f96ab" stroke="#0d161d" stroke-width="1.3" stroke-linejoin="round" stroke-linecap="round" />
<path d="M213.8 1103.5C213.3 1101.7 224 1100.6 230 1099C236 1097.4 243.3 1096.1 250 1093.8C256.7 1091.4 265.8 1085 270 1085C274.2 1085 272.9 1091.7 275 1093.8C277.1 1095.8 281.7 1095.8 282.5 1097.5C283.3 1099.2 282.9 1101.7 280 1103.8C277.1 1105.8 270 1108.5 265 1110C260 1111.5 255.4 1112.5 250 1112.5C244.6 1112.5 238.5 1111.5 232.5 1110C226.5 1108.5 214.2 1105.3 213.8 1103.5Z" fill="#5f889e" stroke="#0d161d" stroke-width="1.3" stroke-linejoin="round" stroke-linecap="round" />
<path d="M271.2 1082L275 1075.5L285 1073L303 1076.8L296.2 1091.2L287.5 1096.2L283.8 1087.5Z" fill="#a9c2cf" stroke="#0d161d" stroke-width="1.3" stroke-linejoin="round" stroke-linecap="round" />
<path d="M275 1076L285 1073.5L302.5 1077L292.5 1082Z" fill="#dbe6ec" stroke="#0d161d" stroke-width="1.2" stroke-linejoin="round" stroke-linecap="round" />
<path d="M213.8 1104L253.8 1113L263.8 1166.8L322.5 1245.5L317.5 1243.8L291.2 1213.8Z" fill="#8aaabb" stroke="#0d161d" stroke-width="1.3" stroke-linejoin="round" stroke-linecap="round" />
<path d="M237.5 1109.5L262.5 1167.5" fill="none" stroke="#0d161d" stroke-width="1" stroke-linejoin="round" stroke-linecap="round" />
<path d="M263.8 1166.8L296.2 1150L386.2 1243.8L392 1256.5L350 1250L322.5 1245.5Z" fill="#a3bccb" stroke="#0d161d" stroke-width="1.4" stroke-linejoin="round" stroke-linecap="round" />
<path d="M290.8 1215.7Q291.2 1213.8 292.6 1215.3L316.2 1242.2Q317.5 1243.8 319.4 1244.4L320.6 1244.8Q322.5 1245.5 321.3 1247.1L321.2 1247.2Q320 1248.8 318 1248.8L294.5 1249.4Q292.5 1249.5 290.7 1248.7L287.3 1247.1Q285.5 1246.2 285.3 1244.3L285.2 1243.2Q285 1241.2 285.4 1239.3Z" fill="#7da3b7" stroke="#0d161d" stroke-width="1.4" stroke-linejoin="round" stroke-linecap="round" />
<path d="M286.2 1245L307.5 1240L322 1246L319.5 1248.5L293 1249.2Z" fill="#c3d5de" stroke="#0d161d" stroke-width="1.2" stroke-linejoin="round" stroke-linecap="round" />
<path d="M251.2 1100L253.8 1093.8L262.5 1091.2L263.8 1096.2" fill="none" stroke="#0d161d" stroke-width="1" stroke-linejoin="round" stroke-linecap="round" />
<path d="M256.2 1102.5L258.8 1097.5L272.5 1092.5L275 1087.5" fill="none" stroke="#0d161d" stroke-width="1" stroke-linejoin="round" stroke-linecap="round" />
<path d="M265 1102.5L267.5 1098.8L280 1095L283.8 1087.5" fill="none" stroke="#0d161d" stroke-width="1" stroke-linejoin="round" stroke-linecap="round" />
<path d="M229.5 1099L229.5 1102L231.5 1101.5" fill="none" stroke="#0d161d" stroke-width="1" stroke-linejoin="round" stroke-linecap="round" />
</g>
<g id="pipes1">
<path d="M346.5 1070.6C346.9 1072.9 347.7 1080.2 348.7 1084.2C349.7 1088.2 349.7 1090 352.5 1094.8C355.3 1099.6 360.7 1106.9 365.4 1112.9C370.1 1118.9 375 1124.2 380.5 1131C386 1137.8 392.8 1146.1 398.6 1153.8C404.4 1161.5 409.8 1170 415.1 1177C420.4 1184 425.1 1190.5 430.2 1196C435.2 1201.5 440.3 1206.3 445.4 1210C450.4 1213.7 455 1216.2 460.5 1218C466 1219.8 472.6 1220.5 478.6 1220.7C484.7 1220.9 490.8 1220.1 496.8 1219.2C502.9 1218.3 508.3 1217.2 514.9 1215.4C521.4 1213.6 530.2 1210.6 536.1 1208.6C542 1206.6 543.5 1205.9 550 1203.3C556.5 1200.7 566.9 1196.5 575 1193C583.1 1189.5 594.6 1183.8 598.5 1182" fill="none" stroke="#0d161d" stroke-width="7.2" stroke-linejoin="round" stroke-linecap="butt" />
<path d="M346.5 1070.6C346.9 1072.9 347.7 1080.2 348.7 1084.2C349.7 1088.2 349.7 1090 352.5 1094.8C355.3 1099.6 360.7 1106.9 365.4 1112.9C370.1 1118.9 375 1124.2 380.5 1131C386 1137.8 392.8 1146.1 398.6 1153.8C404.4 1161.5 409.8 1170 415.1 1177C420.4 1184 425.1 1190.5 430.2 1196C435.2 1201.5 440.3 1206.3 445.4 1210C450.4 1213.7 455 1216.2 460.5 1218C466 1219.8 472.6 1220.5 478.6 1220.7C484.7 1220.9 490.8 1220.1 496.8 1219.2C502.9 1218.3 508.3 1217.2 514.9 1215.4C521.4 1213.6 530.2 1210.6 536.1 1208.6C542 1206.6 543.5 1205.9 550 1203.3C556.5 1200.7 566.9 1196.5 575 1193C583.1 1189.5 594.6 1183.8 598.5 1182" fill="none" stroke="#a3bfcd" stroke-width="3.4" stroke-linejoin="round" stroke-linecap="butt" />
<path d="M346.5 1070.6C346.9 1072.9 347.7 1080.2 348.7 1084.2C349.7 1088.2 349.7 1090 352.5 1094.8C355.3 1099.6 360.7 1106.9 365.4 1112.9C370.1 1118.9 375 1124.2 380.5 1131C386 1137.8 392.8 1146.1 398.6 1153.8C404.4 1161.5 409.8 1170 415.1 1177C420.4 1184 425.1 1190.5 430.2 1196C435.2 1201.5 440.3 1206.3 445.4 1210C450.4 1213.7 455 1216.2 460.5 1218C466 1219.8 472.6 1220.5 478.6 1220.7C484.7 1220.9 490.8 1220.1 496.8 1219.2C502.9 1218.3 508.3 1217.2 514.9 1215.4C521.4 1213.6 530.2 1210.6 536.1 1208.6C542 1206.6 543.5 1205.9 550 1203.3C556.5 1200.7 566.9 1196.5 575 1193C583.1 1189.5 594.6 1183.8 598.5 1182" fill="none" stroke="#dde8ee" stroke-width="1.7" stroke-linejoin="round" stroke-linecap="butt" />
<path d="M334.4 1070.6C334.8 1072.6 335.7 1078.2 336.6 1082.7C337.5 1087.2 337.9 1092 339.7 1097.8C341.5 1103.6 343.7 1110.7 347.2 1117.5C350.7 1124.3 355.2 1131 360.8 1138.6C366.4 1146.1 374 1155.7 380.5 1162.8C387 1169.9 394.2 1175.1 400 1181C405.8 1186.9 410.1 1192.5 415.1 1198C420.1 1203.5 425.1 1209.6 430.2 1214C435.2 1218.4 440.3 1221.9 445.4 1224.5C450.4 1227.1 455 1228.4 460.5 1229.5C466 1230.6 472.6 1231.2 478.6 1231.3C484.7 1231.3 490.8 1230.7 496.8 1229.8C502.9 1228.9 508.3 1227.8 514.9 1226C521.4 1224.2 530.2 1221.2 536.1 1219.2C542 1217.2 543.5 1216.7 550 1213.9C556.5 1211.1 566.5 1206.6 575 1202.5C583.5 1198.4 596.7 1191.7 601 1189.5" fill="none" stroke="#0d161d" stroke-width="7.2" stroke-linejoin="round" stroke-linecap="butt" />
<path d="M334.4 1070.6C334.8 1072.6 335.7 1078.2 336.6 1082.7C337.5 1087.2 337.9 1092 339.7 1097.8C341.5 1103.6 343.7 1110.7 347.2 1117.5C350.7 1124.3 355.2 1131 360.8 1138.6C366.4 1146.1 374 1155.7 380.5 1162.8C387 1169.9 394.2 1175.1 400 1181C405.8 1186.9 410.1 1192.5 415.1 1198C420.1 1203.5 425.1 1209.6 430.2 1214C435.2 1218.4 440.3 1221.9 445.4 1224.5C450.4 1227.1 455 1228.4 460.5 1229.5C466 1230.6 472.6 1231.2 478.6 1231.3C484.7 1231.3 490.8 1230.7 496.8 1229.8C502.9 1228.9 508.3 1227.8 514.9 1226C521.4 1224.2 530.2 1221.2 536.1 1219.2C542 1217.2 543.5 1216.7 550 1213.9C556.5 1211.1 566.5 1206.6 575 1202.5C583.5 1198.4 596.7 1191.7 601 1189.5" fill="none" stroke="#a3bfcd" stroke-width="3.4" stroke-linejoin="round" stroke-linecap="butt" />
<path d="M334.4 1070.6C334.8 1072.6 335.7 1078.2 336.6 1082.7C337.5 1087.2 337.9 1092 339.7 1097.8C341.5 1103.6 343.7 1110.7 347.2 1117.5C350.7 1124.3 355.2 1131 360.8 1138.6C366.4 1146.1 374 1155.7 380.5 1162.8C387 1169.9 394.2 1175.1 400 1181C405.8 1186.9 410.1 1192.5 415.1 1198C420.1 1203.5 425.1 1209.6 430.2 1214C435.2 1218.4 440.3 1221.9 445.4 1224.5C450.4 1227.1 455 1228.4 460.5 1229.5C466 1230.6 472.6 1231.2 478.6 1231.3C484.7 1231.3 490.8 1230.7 496.8 1229.8C502.9 1228.9 508.3 1227.8 514.9 1226C521.4 1224.2 530.2 1221.2 536.1 1219.2C542 1217.2 543.5 1216.7 550 1213.9C556.5 1211.1 566.5 1206.6 575 1202.5C583.5 1198.4 596.7 1191.7 601 1189.5" fill="none" stroke="#dde8ee" stroke-width="1.7" stroke-linejoin="round" stroke-linecap="butt" />
<rect x="328.3" y="1034" width="6" height="40" fill="url(#cyl)" stroke="#0d161d" stroke-width="1"/><rect x="327.5" y="1035" width="7.6" height="9" rx="1.5" fill="url(#cyl)" stroke="#0d161d" stroke-width="1.1"/><rect x="326.5" y="1044" width="9.6" height="13" rx="2.5" fill="url(#cyl)" stroke="#0d161d" stroke-width="1.1"/><rect x="327.6" y="1060" width="7.4" height="4" rx="1.5" fill="url(#cyl)" stroke="#0d161d" stroke-width="1"/><rect x="327.6" y="1066" width="7.4" height="4" rx="1.5" fill="url(#cyl)" stroke="#0d161d" stroke-width="1"/>
<rect x="341" y="1034" width="6" height="40" fill="url(#cyl)" stroke="#0d161d" stroke-width="1"/><rect x="340.2" y="1035" width="7.6" height="9" rx="1.5" fill="url(#cyl)" stroke="#0d161d" stroke-width="1.1"/><rect x="339.2" y="1044" width="9.6" height="13" rx="2.5" fill="url(#cyl)" stroke="#0d161d" stroke-width="1.1"/><rect x="340.3" y="1060" width="7.4" height="4" rx="1.5" fill="url(#cyl)" stroke="#0d161d" stroke-width="1"/><rect x="340.3" y="1066" width="7.4" height="4" rx="1.5" fill="url(#cyl)" stroke="#0d161d" stroke-width="1"/>
</g>
<g id="tie">
<path d="M466.5 1182.6L493 1165.1L495.6 1166L496.8 1168.1L500.1 1169.6L471.1 1187.2Z" fill="#8fb0c2" stroke="#0d161d" stroke-width="1.4" stroke-linejoin="round" stroke-linecap="round" />
<path d="M500.6 1164.1Q500 1162.5 501.8 1161.5L508.2 1158Q510 1157 511.8 1156.2L525.7 1150.1Q527.5 1149.2 529.3 1148.4L543.2 1142.1Q545 1141.2 546.9 1140.6L558.1 1136.9Q560 1136.2 562 1136.7L567 1137.8Q569 1138.2 567.8 1139.9L567.4 1140.4Q566.2 1142 564.3 1142.6L549.4 1147.4Q547.5 1148 545.6 1148.6L536.9 1151.2Q535 1151.8 533.2 1152.6L524.3 1156.7Q522.5 1157.5 520.7 1158.4L506.8 1165.8Q505 1166.8 503.1 1166.2L503.1 1166.2Q501.2 1165.8 500.6 1164.1Z" fill="#8fb0c2" stroke="#0d161d" stroke-width="1.4" stroke-linejoin="round" stroke-linecap="round" />
<path d="M535 1148L537.5 1151" fill="none" stroke="#0d161d" stroke-width="0.9" stroke-linejoin="round" stroke-linecap="round" />
<path d="M538 1146.8L540.5 1149.8" fill="none" stroke="#0d161d" stroke-width="0.9" stroke-linejoin="round" stroke-linecap="round" />
<path d="M541 1145.7L543.5 1148.7" fill="none" stroke="#0d161d" stroke-width="0.9" stroke-linejoin="round" stroke-linecap="round" />
<path d="M544 1144.5L546.5 1147.5" fill="none" stroke="#0d161d" stroke-width="0.9" stroke-linejoin="round" stroke-linecap="round" />
<path d="M547 1143.4L549.5 1146.4" fill="none" stroke="#0d161d" stroke-width="0.9" stroke-linejoin="round" stroke-linecap="round" />
<path d="M550 1142.2L552.5 1145.2" fill="none" stroke="#0d161d" stroke-width="0.9" stroke-linejoin="round" stroke-linecap="round" />
<path d="M553 1141.1L555.5 1144.1" fill="none" stroke="#0d161d" stroke-width="0.9" stroke-linejoin="round" stroke-linecap="round" />
<path d="M556 1140L558.5 1143" fill="none" stroke="#0d161d" stroke-width="0.9" stroke-linejoin="round" stroke-linecap="round" />
<path d="M559 1138.8L561.5 1141.8" fill="none" stroke="#0d161d" stroke-width="0.9" stroke-linejoin="round" stroke-linecap="round" />
<path d="M451.6 1184.9Q451.4 1182.9 453.1 1181.9L458 1179.1Q459.7 1178.1 461.6 1178.9L469.3 1182.4Q471.1 1183.2 471.2 1185.2L471.4 1190.3Q471.5 1192.3 469.9 1193.5L466.9 1195.9Q465.3 1197.1 463.5 1196.4L454 1192.5Q452.2 1191.7 452 1189.7Z" fill="#a9c2cf" stroke="#0d161d" stroke-width="1.8" stroke-linejoin="round" stroke-linecap="round" />
<path d="M451.9 1182.9L459.7 1178.7L470.8 1183.5L464.3 1188.7Z" fill="#dbe6ec" stroke="#0d161d" stroke-width="1.2" stroke-linejoin="round" stroke-linecap="round" />
<path d="M464.3 1188.7L470.8 1183.5L471.2 1192L465.3 1196.8Z" fill="#6f96ab" stroke="#0d161d" stroke-width="1.2" stroke-linejoin="round" stroke-linecap="round" />
<path d="M456.7 1182.2L460.5 1180.7L466.5 1183.7L462.8 1185.6Z" fill="#8fb0c2" stroke="#0d161d" stroke-width="1" stroke-linejoin="round" stroke-linecap="round" />
</g>
<g id="pump">
<path d="M521.2 877Q521.2 875 522.9 873.9L523.3 873.6Q525 872.5 526.9 873.2L536.9 876.8Q538.8 877.5 538.9 879.5L539.8 890.5Q540 892.5 541.6 893.7L550.9 901.3Q552.5 902.5 553.5 904.2L567.7 928.3Q568.8 930 568.8 932L568.8 936Q568.8 938 567.1 939.1L551.7 949.4Q550 950.5 548.3 949.5L489.2 914Q487.5 913 487.3 911L487.2 910.7Q487 908.8 488.4 907.3L510.6 885.2Q512 883.8 513.8 884.7L519.5 887.8Q521.2 888.8 521.2 886.8Z" fill="#8fb0c2" stroke="#0d161d" stroke-width="1.8" stroke-linejoin="round" stroke-linecap="round" />
<path d="M521.2 875L525 873L538.5 878L539.5 893L532.5 895L531.2 882.5L522 880Z" fill="#6a93a9" stroke="#0d161d" stroke-width="1.3" stroke-linejoin="round" stroke-linecap="round" />
<path d="M512.5 884.5L522 889.5L525 900L532.5 905L540 895L552.5 903.5L568 930L550 942.5L530 930L520 920L515 910Z" fill="#7da3b7" stroke="#0d161d" stroke-width="1.3" stroke-linejoin="round" stroke-linecap="round" />
<path d="M487.5 909L495 902.5L515 912.5L507.5 920Z" fill="#c3d5de" stroke="#0d161d" stroke-width="1.2" stroke-linejoin="round" stroke-linecap="round" />
<path d="M530 930L540 925L562.5 935.5L550 945Z" fill="#c3d5de" stroke="#0d161d" stroke-width="1.2" stroke-linejoin="round" stroke-linecap="round" />
<path d="M487.5 909.5L550 946.2L568 935L568.5 938L550 950.2L487.5 913Z" fill="#5f889e" stroke="#0d161d" stroke-width="1.3" stroke-linejoin="round" stroke-linecap="round" />
<path d="M493 887.5L500 886.2L505.5 895L503.8 902.5L496.2 903.8L492.5 895Z" fill="#a9c2cf" stroke="#0d161d" stroke-width="1.2" stroke-linejoin="round" stroke-linecap="round" />
<path d="M547.5 922.5L555 920L560.5 927.5L558 935L551.2 935L547 930Z" fill="#a9c2cf" stroke="#0d161d" stroke-width="1.2" stroke-linejoin="round" stroke-linecap="round" />
<path d="M493.8 906.2L501.2 910" fill="none" stroke="#0d161d" stroke-width="1" stroke-linejoin="round" stroke-linecap="round" />
<path d="M498 903.8L505.5 908" fill="none" stroke="#0d161d" stroke-width="1" stroke-linejoin="round" stroke-linecap="round" />
<path d="M541.2 932.5L548.8 937" fill="none" stroke="#0d161d" stroke-width="1" stroke-linejoin="round" stroke-linecap="round" />
<path d="M545.5 930L553 934.5" fill="none" stroke="#0d161d" stroke-width="1" stroke-linejoin="round" stroke-linecap="round" />
<path d="M533.8 910L540 905L546.2 915L547.5 922.5L540 920Z" fill="#5f889e" stroke="#0d161d" stroke-width="1" stroke-linejoin="round" stroke-linecap="round" />
<path d="M562.5 788.8L568 780.5L570.5 784.5L577 785.5L572.5 793.8L568.8 795Z" fill="#1c2f3b" stroke="#0d161d" stroke-width="1" stroke-linejoin="round" stroke-linecap="round" />
<path d="M550 802.5C550.1 801 549.7 796 550.5 793.8C551.3 791.5 553 789.6 555 789C557 788.4 559.2 788.5 562.5 790C565.8 791.5 571.9 795.2 575 798C578.1 800.8 580.8 804.2 581 807C581.2 809.8 579.3 812.8 576.2 815C573.2 817.2 568.5 818.2 562.5 820C556.5 821.8 547.1 823.8 540 825.5C532.9 827.2 525 828.3 520 830C515 831.7 513.3 832.6 510 835.5C506.7 838.4 502.9 843.8 500 847.5C497.1 851.2 494.6 854 492.5 857.5C490.4 861 488.3 866.9 487.5 868.8" fill="none" stroke="#0d161d" stroke-width="4.4" stroke-linejoin="round" stroke-linecap="butt" />
<path d="M550 802.5C550.1 801 549.7 796 550.5 793.8C551.3 791.5 553 789.6 555 789C557 788.4 559.2 788.5 562.5 790C565.8 791.5 571.9 795.2 575 798C578.1 800.8 580.8 804.2 581 807C581.2 809.8 579.3 812.8 576.2 815C573.2 817.2 568.5 818.2 562.5 820C556.5 821.8 547.1 823.8 540 825.5C532.9 827.2 525 828.3 520 830C515 831.7 513.3 832.6 510 835.5C506.7 838.4 502.9 843.8 500 847.5C497.1 851.2 494.6 854 492.5 857.5C490.4 861 488.3 866.9 487.5 868.8" fill="none" stroke="#c9d9e1" stroke-width="1.5" stroke-linejoin="round" stroke-linecap="butt" />
<path d="M501.2 800.5C502.3 801.5 505.5 803.8 507.5 806.2C509.5 808.7 511.8 811 513 815C514.2 819 514.7 827.5 515 830" fill="none" stroke="#0d161d" stroke-width="4.2" stroke-linejoin="round" stroke-linecap="butt" />
<path d="M501.2 800.5C502.3 801.5 505.5 803.8 507.5 806.2C509.5 808.7 511.8 811 513 815C514.2 819 514.7 827.5 515 830" fill="none" stroke="#c9d9e1" stroke-width="1.3" stroke-linejoin="round" stroke-linecap="butt" />
<path d="M487.5 868.8C486.2 869.6 483.8 872.7 480 873.8C476.2 874.8 468.8 874 465 875C461.2 876 458.8 877.5 457 880C455.2 882.5 454.3 886.9 454.5 890C454.7 893.1 456.2 896.2 458 898.8C459.8 901.2 462.6 903.3 465 905C467.4 906.7 471.2 908.1 472.5 908.8" fill="none" stroke="#0d161d" stroke-width="4" stroke-linejoin="round" stroke-linecap="butt" />
<path d="M487.5 868.8C486.2 869.6 483.8 872.7 480 873.8C476.2 874.8 468.8 874 465 875C461.2 876 458.8 877.5 457 880C455.2 882.5 454.3 886.9 454.5 890C454.7 893.1 456.2 896.2 458 898.8C459.8 901.2 462.6 903.3 465 905C467.4 906.7 471.2 908.1 472.5 908.8" fill="none" stroke="#c9d9e1" stroke-width="1.1" stroke-linejoin="round" stroke-linecap="butt" />
<path d="M420.5 904.5C421.7 905.1 425.3 906.8 427.5 908C429.7 909.2 431.8 911.5 433.8 911.5C435.8 911.5 437.8 909.1 439.5 908C441.2 906.9 442 905.2 443.8 905C445.5 904.8 448.3 906.3 450 907C451.7 907.7 453.1 908.7 453.8 909" fill="none" stroke="#0d161d" stroke-width="4" stroke-linejoin="round" stroke-linecap="butt" />
<path d="M420.5 904.5C421.7 905.1 425.3 906.8 427.5 908C429.7 909.2 431.8 911.5 433.8 911.5C435.8 911.5 437.8 909.1 439.5 908C441.2 906.9 442 905.2 443.8 905C445.5 904.8 448.3 906.3 450 907C451.7 907.7 453.1 908.7 453.8 909" fill="none" stroke="#c9d9e1" stroke-width="1.1" stroke-linejoin="round" stroke-linecap="butt" />
<path d="M490.9 793.5Q489.5 792 491 790.7L491.5 790.3Q493 789 494.4 790.4L499.9 796.1Q501.2 797.5 499.9 799L499.4 799.5Q498 801 496.6 799.5Z" fill="#a9c2cf" stroke="#0d161d" stroke-width="1.6" stroke-linejoin="round" stroke-linecap="round" />
<path d="M500.1 800.9Q498.8 799.5 500.2 798.1L500.5 797.9Q502 796.5 503.4 798L506.1 801Q507.5 802.5 506.1 803.9L505.9 804.1Q504.5 805.5 503.1 804.1Z" fill="#dbe6ec" stroke="#0d161d" stroke-width="1.3" stroke-linejoin="round" stroke-linecap="round" />
<path d="M552 816.2L552 875" fill="none" stroke="#0d161d" stroke-width="2.9" stroke-linejoin="round" stroke-linecap="butt" />
<path d="M552 817.5L552 873.8" fill="none" stroke="#a9c2cf" stroke-width="0.8" stroke-linejoin="round" stroke-linecap="butt" />
<path d="M549.9 870.2Q550 868.8 551.5 868.8L552.5 868.8Q554 868.8 554.1 870.2L554.4 878.5Q554.5 880 553.8 881.3L553.7 881.7Q553 883 551.8 883L551.8 883Q550.5 883 550 881.6L550 881.4Q549.5 880 549.6 878.5Z" fill="#dbe6ec" stroke="#0d161d" stroke-width="1.3" stroke-linejoin="round" stroke-linecap="round" />
<path d="M546.5 802.5Q546.5 800.5 548.5 800.5L554 800.5Q556 800.5 556.2 802.5L556.3 803.5Q556.5 805.5 557.8 806.5L557.8 806.5Q559 807.5 559 808.8L559 808.8Q559 810 557.4 811.2L556.6 811.8Q555 813 555 814.8L555 814.8Q555 816.5 553 816.5L550.5 816.5Q548.5 816.5 548.2 814.8L548.2 814.8Q548 813 546.4 811.8L545.6 811.2Q544 810 544 808.8L544 808.8Q544 807.5 545.2 806.5L545.2 806.5Q546.5 805.5 546.5 803.5Z" fill="url(#cyl)" stroke="#0d161d" stroke-width="1.6" stroke-linejoin="round" stroke-linecap="round" />
<path d="M544 808.8Q551.5 813 559 808.8" fill="none" stroke="#0d161d" stroke-width="1" stroke-linejoin="round" stroke-linecap="round" />
<path d="M406.2 898.1Q405.5 896.2 407.2 895.3L407.8 895Q409.5 894 411.3 894.8L416.9 897.2Q418.8 898 420.2 899.4L420.6 899.8Q422 901.2 421.3 903.1L420.7 904.4Q420 906.2 418 906.5L417 906.7Q415 907 413.4 905.8L409.1 902.5Q407.5 901.2 406.8 899.4Z" fill="#dbe6ec" stroke="#0d161d" stroke-width="1.6" stroke-linejoin="round" stroke-linecap="round" />
<path d="M415 897L413 905" fill="none" stroke="#0d161d" stroke-width="1" stroke-linejoin="round" stroke-linecap="round" />
<path d="M450.6 910.1Q449.8 908.2 451 906.9L451 906.9Q452.1 905.6 453.9 906.5L463.9 910.9Q465.7 911.7 466 913.7L466.2 914.6Q466.5 916.5 464.7 917.4L464.5 917.5Q462.7 918.4 460.9 917.4L453.1 913Q451.3 912 450.6 910.1Z" fill="url(#cyl)" stroke="#0d161d" stroke-width="1.4" stroke-linejoin="round" stroke-linecap="round" />
<path d="M456.6 908.2L455.1 913.5" fill="none" stroke="#0d161d" stroke-width="1" stroke-linejoin="round" stroke-linecap="round" />
<path d="M465.2 919.5Q465 916.5 467.4 914.8L467.8 914.5Q470.2 912.8 473.1 913.6L474.9 914.2Q477.8 915 480.5 916.4L502.3 927.3Q505 928.6 507.1 930.8L509 932.6Q511.1 934.7 511.8 937.6L512.2 939.3Q512.9 942.2 511.1 944.7L510.1 946.2Q508.4 948.6 505.4 948.9L503.5 949.1Q500.5 949.3 497.8 948L495.6 946.9Q492.9 945.6 490.3 944.1L477.4 936.5Q474.8 935 472.7 932.9L467.8 928Q465.7 925.9 465.5 922.9Z" fill="url(#cylp)" stroke="#0d161d" stroke-width="2" stroke-linejoin="round" stroke-linecap="round" />
<path d="M477.8 915.3C477.2 916.5 474.9 919.4 474.5 922.6C474.1 925.8 475.4 932.7 475.5 934.7" fill="none" stroke="#0d161d" stroke-width="1.2" stroke-linejoin="round" stroke-linecap="round" />
<path d="M499.7 926.4C498.7 927.8 494.6 931.5 493.7 934.7C492.8 937.9 494.3 943.8 494.4 945.6" fill="none" stroke="#0d161d" stroke-width="1.2" stroke-linejoin="round" stroke-linecap="round" />
<path d="M505 928.9C504.1 930.4 500.4 934.4 499.7 937.7C499.1 941.1 501 947.2 501.2 949" fill="none" stroke="#0d161d" stroke-width="1.2" stroke-linejoin="round" stroke-linecap="round" />
<ellipse cx="506.5" cy="940" rx="6.5" ry="9" fill="#a9c2cf" stroke="#0d161d" stroke-width="1.3" transform="rotate(-30 506.5 940)" />
<path d="M508.3 941.2Q508 939.2 509.8 938.2L510.1 938Q511.8 936.9 513.4 938.2L517.1 941Q518.6 942.2 518.1 944.2L517.6 946.4Q517.1 948.3 515.2 948.9L514.5 949.2Q512.6 949.8 511.3 948.3L510.1 946.8Q508.8 945.3 508.6 943.3Z" fill="#dbe6ec" stroke="#0d161d" stroke-width="1.4" stroke-linejoin="round" stroke-linecap="round" />
<path d="M469.1 908.7Q468.7 906.3 470.6 904.7L470.6 904.7Q472.5 903.2 475.2 904.2L475.2 904.2Q477.8 905.2 480.8 907.9L482.4 909.3Q485.4 912 487 914.6L487 914.6Q488.7 917.3 487.8 919.6L487.8 919.6Q486.9 921.8 484.6 922.4L484.6 922.4Q482.3 922.9 479.3 920.5L479.3 920.5Q476.3 918 473.5 915.2L472.3 914.1Q469.5 911.2 469.1 908.7Z" fill="url(#cylp)" stroke="#0d161d" stroke-width="1.7" stroke-linejoin="round" stroke-linecap="round" />
<path d="M477.8 905.3C477.4 906.2 475.7 908.4 475.5 910.5C475.3 912.6 476.4 916.5 476.6 917.7" fill="none" stroke="#0d161d" stroke-width="1.2" stroke-linejoin="round" stroke-linecap="round" />
<path d="M492.9 860.6C493.8 862.3 496.5 867.9 498.2 871.2C500 874.4 501.6 876.5 503.5 880.2C505.4 884 507.5 889.3 509.6 893.9C511.6 898.4 513.8 902.9 515.6 907.5C517.4 912 518.9 917.3 520.1 921.1C521.4 924.9 521.9 926.9 522.9 930.1C523.9 933.4 525.4 937.7 526.2 940.7C526.9 943.8 527.7 946.1 527.4 948.3C527.2 950.5 525.9 952.9 524.7 954C523.5 955.1 521.7 955.4 520.1 954.9C518.6 954.4 516.7 952.3 515.6 951C514.6 949.7 514.1 947.7 513.8 947.1" fill="none" stroke="#0d161d" stroke-width="5" stroke-linejoin="round" stroke-linecap="butt" />
<path d="M492.9 860.6C493.8 862.3 496.5 867.9 498.2 871.2C500 874.4 501.6 876.5 503.5 880.2C505.4 884 507.5 889.3 509.6 893.9C511.6 898.4 513.8 902.9 515.6 907.5C517.4 912 518.9 917.3 520.1 921.1C521.4 924.9 521.9 926.9 522.9 930.1C523.9 933.4 525.4 937.7 526.2 940.7C526.9 943.8 527.7 946.1 527.4 948.3C527.2 950.5 525.9 952.9 524.7 954C523.5 955.1 521.7 955.4 520.1 954.9C518.6 954.4 516.7 952.3 515.6 951C514.6 949.7 514.1 947.7 513.8 947.1" fill="none" stroke="#c9d9e1" stroke-width="2.1" stroke-linejoin="round" stroke-linecap="butt" />
<path d="M520.4 930.6Q519.8 928.6 521.8 928L522.8 927.7Q524.7 927.1 525.2 929L525.6 930.5Q526.2 932.4 524.3 933.1L523.2 933.4Q521.4 934.1 520.8 932.1Z" fill="#dbe6ec" stroke="#0d161d" stroke-width="1.3" stroke-linejoin="round" stroke-linecap="round" />
</g>
<g id="labels">
<g opacity="0.999">
<text x="574.7" y="587" class="lb">3</text>
<text x="576" y="665" class="lb">2</text>
<text x="299.5" y="643" class="lb">4</text>
<text x="589.5" y="934" class="lb">5</text>
<text x="827.9" y="954.2" class="lb">8</text>
<text x="421" y="1107.5" class="lb">9</text>
<text x="481.8" y="1153" class="lb">11</text>
<text x="138" y="1254" class="lb">10</text>
<text x="348.9" y="1307.8" class="lb">6</text>
<text x="512" y="1281" class="lb">1</text>
</g>
<line x1="573.5" y1="575.5" x2="573.5" y2="590" stroke="#000" stroke-width="1.4" />
<line x1="576.5" y1="621" x2="576.5" y2="635" stroke="#000" stroke-width="1.4" />
<line x1="299.5" y1="631" x2="299.5" y2="656" stroke="#000" stroke-width="1.4" />
<line x1="561" y1="913.3" x2="582" y2="913.3" stroke="#000" stroke-width="1.4" />
<line x1="828.5" y1="902.5" x2="828.5" y2="921.7" stroke="#000" stroke-width="1.4" />
<line x1="421.5" y1="1054" x2="421.5" y2="1077.5" stroke="#000" stroke-width="1.4" />
<line x1="482.5" y1="1144" x2="482.5" y2="1170" stroke="#000" stroke-width="1.4" />
<line x1="138.5" y1="1205.6" x2="138.5" y2="1223.8" stroke="#000" stroke-width="1.4" />
<line x1="350.5" y1="1250.5" x2="350.5" y2="1276.7" stroke="#000" stroke-width="1.4" />
<line x1="511.5" y1="1230" x2="511.5" y2="1249.5" stroke="#000" stroke-width="1.4" />
</g>
</svg>
<div class="credit">Diagrams provided by catalogs parts</div>
</body></html>
